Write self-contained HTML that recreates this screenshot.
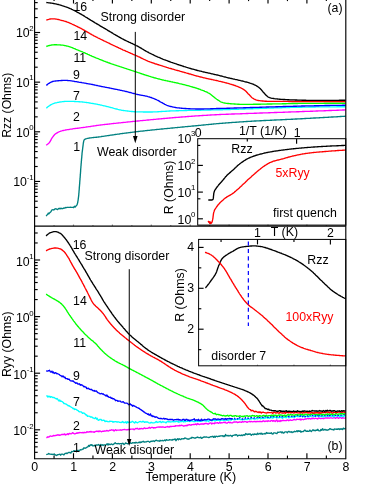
<!DOCTYPE html>
<html><head><meta charset="utf-8"><title>Rzz and Ryy vs Temperature</title>
<style>html,body{margin:0;padding:0;background:#fff;}body{width:374px;height:484px;overflow:hidden;font-family:"Liberation Sans",sans-serif;}svg text{font-family:"Liberation Sans",sans-serif;}</style>
</head><body>
<svg width="374" height="484" viewBox="0 0 374 484" style="display:block;font-family:'Liberation Sans',sans-serif" font-family="Liberation Sans, sans-serif">
<defs><filter id="soft" x="0" y="0" width="374" height="484" filterUnits="userSpaceOnUse"><feGaussianBlur stdDeviation="0.3"/></filter></defs>
<rect x="0" y="0" width="374" height="484" fill="#fff"/>
<g filter="url(#soft)">
<clipPath id="ca"><rect x="34.6" y="0" width="311.2" height="226.1"/></clipPath>
<clipPath id="cb"><rect x="34.6" y="226.1" width="311.2" height="232.6"/></clipPath>
<g clip-path="url(#ca)">
<path d="M46.2,216.2 L46.9,215.0 L47.6,214.5 L48.3,213.1 L48.9,213.7 L49.5,213.1 L50.1,212.4 L50.6,212.0 L51.1,211.4 L51.6,210.2 L52.2,209.8 L52.9,209.7 L53.6,210.0 L54.3,209.7 L55.1,208.8 L56.0,208.7 L56.8,209.3 L57.6,209.5 L58.4,208.7 L59.2,208.3 L60.0,208.9 L60.8,208.2 L61.6,208.5 L62.4,208.7 L63.2,208.3 L64.0,208.0 L64.8,208.1 L65.6,207.5 L66.4,207.6 L67.2,207.3 L68.0,207.4 L68.8,207.3 L69.7,207.3 L70.5,207.2 L71.3,207.3 L72.1,207.3 L72.9,207.3 L73.6,207.6 L74.4,206.3 L75.2,207.1 L75.9,206.0 L76.5,205.6 L76.9,205.0 L77.2,204.4 L77.4,203.6 L77.6,202.8 L77.8,202.0 L77.9,201.1 L78.1,200.3 L78.2,199.5 L78.3,198.7 L78.4,197.9 L78.5,197.1 L78.6,196.3 L78.7,195.5 L78.8,194.7 L78.8,193.9 L78.9,193.1 L79.0,192.3 L79.0,191.5 L79.1,190.7 L79.2,189.9 L79.2,189.1 L79.3,188.3 L79.3,187.5 L79.4,186.7 L79.5,185.9 L79.5,185.1 L79.6,184.3 L79.7,183.5 L79.7,182.7 L79.8,181.9 L79.8,181.1 L79.9,180.3 L80.0,179.5 L80.0,178.7 L80.1,177.9 L80.2,177.1 L80.2,176.3 L80.3,175.5 L80.3,174.7 L80.4,173.9 L80.5,173.1 L80.5,172.3 L80.6,171.5 L80.6,170.7 L80.7,169.9 L80.7,169.1 L80.8,168.2 L80.9,167.4 L80.9,166.6 L81.0,165.8 L81.1,165.0 L81.1,164.2 L81.2,163.4 L81.3,162.6 L81.3,161.8 L81.4,161.0 L81.5,160.2 L81.5,159.4 L81.6,158.6 L81.7,157.8 L81.8,157.0 L81.8,156.2 L81.9,155.4 L82.0,154.6 L82.0,153.8 L82.1,153.0 L82.2,152.2 L82.3,151.4 L82.4,150.6 L82.5,149.8 L82.6,149.0 L82.7,148.2 L82.8,147.4 L82.9,146.7 L83.0,145.9 L83.1,145.1 L83.2,144.2 L83.3,143.3 L83.5,142.5 L83.6,141.7 L83.8,140.9 L84.0,140.2 L84.4,139.7 L85.0,139.2 L85.8,138.8 L86.6,138.6 L87.3,138.4 L88.0,138.3 L88.8,138.1 L89.6,138.0 L90.4,137.9 L91.2,137.8 L92.0,137.7 L92.8,137.6 L93.6,137.5 L94.4,137.4 L95.3,137.3 L96.1,137.2 L96.9,137.2 L97.7,137.1 L98.5,137.0 L99.3,136.9 L100.1,136.8 L100.9,136.7 L101.7,136.5 L102.5,136.4 L103.3,136.3 L104.1,136.2 L104.9,136.1 L105.7,135.9 L106.5,135.8 L107.3,135.7 L108.1,135.6 L108.9,135.5 L109.7,135.4 L110.5,135.2 L111.3,135.1 L112.1,135.0 L112.9,134.9 L113.6,134.8 L114.4,134.6 L115.2,134.5 L116.0,134.4 L116.8,134.3 L117.6,134.2 L118.4,134.1 L119.2,134.0 L120.0,133.8 L120.8,133.7 L121.6,133.6 L122.4,133.5 L123.2,133.4 L124.0,133.3 L124.8,133.2 L125.6,133.1 L126.4,133.0 L127.2,132.9 L128.0,132.8 L128.8,132.7 L129.6,132.6 L130.4,132.5 L131.2,132.4 L132.0,132.3 L132.8,132.2 L133.6,132.1 L134.4,132.0 L135.1,131.9 L135.9,131.8 L136.7,131.7 L137.5,131.6 L138.3,131.5 L139.1,131.4 L139.9,131.3 L140.7,131.2 L141.5,131.1 L142.3,131.1 L143.1,131.0 L143.9,130.9 L144.7,130.8 L145.5,130.7 L146.3,130.6 L147.1,130.5 L147.9,130.4 L148.7,130.3 L149.5,130.3 L150.3,130.2 L151.1,130.1 L151.9,130.0 L152.7,129.9 L153.5,129.8 L154.3,129.8 L155.1,129.7 L155.9,129.6 L156.7,129.5 L157.5,129.4 L158.3,129.3 L159.1,129.3 L159.9,129.2 L160.7,129.1 L161.5,129.0 L162.3,129.0 L163.1,128.9 L163.9,128.8 L164.7,128.7 L165.5,128.6 L166.3,128.6 L167.1,128.5 L167.9,128.4 L168.7,128.3 L169.5,128.3 L170.3,128.2 L171.1,128.1 L171.9,128.0 L172.7,128.0 L173.5,127.9 L174.3,127.8 L175.1,127.7 L175.9,127.6 L176.7,127.6 L177.5,127.5 L178.3,127.4 L179.1,127.3 L179.9,127.3 L180.7,127.2 L181.5,127.1 L182.3,127.0 L183.1,127.0 L183.9,126.9 L184.7,126.8 L185.5,126.7 L186.3,126.6 L187.1,126.6 L187.9,126.5 L188.7,126.4 L189.5,126.3 L190.3,126.3 L191.1,126.2 L191.9,126.1 L192.7,126.0 L193.5,126.0 L194.3,125.9 L195.1,125.8 L195.9,125.7 L196.7,125.7 L197.5,125.6 L198.3,125.5 L199.1,125.4 L199.9,125.4 L200.7,125.3 L201.5,125.2 L202.3,125.1 L203.1,125.0 L203.9,125.0 L204.7,124.9 L205.5,124.8 L206.3,124.7 L207.1,124.6 L207.9,124.6 L208.7,124.5 L209.5,124.4 L210.3,124.3 L211.1,124.2 L211.9,124.2 L212.7,124.1 L213.5,124.0 L214.3,123.9 L215.1,123.9 L215.9,123.8 L216.7,123.7 L217.5,123.6 L218.3,123.6 L219.1,123.5 L219.9,123.4 L220.7,123.4 L221.5,123.3 L222.3,123.2 L223.1,123.2 L223.9,123.1 L224.7,123.1 L225.5,123.0 L226.3,122.9 L227.1,122.9 L227.9,122.8 L228.7,122.7 L229.5,122.7 L230.3,122.6 L231.1,122.6 L231.9,122.5 L232.7,122.4 L233.5,122.4 L234.3,122.3 L235.1,122.3 L235.9,122.2 L236.7,122.2 L237.5,122.1 L238.3,122.1 L239.1,122.0 L239.9,121.9 L240.7,121.9 L241.5,121.8 L242.3,121.8 L243.1,121.7 L243.9,121.7 L244.7,121.6 L245.5,121.6 L246.3,121.5 L247.1,121.5 L247.9,121.4 L248.7,121.4 L249.5,121.3 L250.3,121.3 L251.1,121.2 L251.9,121.2 L252.7,121.1 L253.5,121.1 L254.3,121.0 L255.1,121.0 L255.9,121.0 L256.8,120.9 L257.6,120.9 L258.4,120.8 L259.2,120.8 L260.0,120.7 L260.8,120.7 L261.6,120.7 L262.4,120.6 L263.2,120.6 L264.0,120.5 L264.8,120.5 L265.6,120.5 L266.4,120.4 L267.2,120.4 L268.0,120.3 L268.8,120.3 L269.6,120.3 L270.4,120.2 L271.2,120.2 L272.0,120.2 L272.8,120.1 L273.6,120.1 L274.4,120.0 L275.2,120.0 L276.0,120.0 L276.8,119.9 L277.6,119.9 L278.4,119.9 L279.2,119.8 L280.0,119.8 L280.8,119.7 L281.6,119.7 L282.4,119.7 L283.2,119.6 L284.0,119.6 L284.8,119.6 L285.6,119.5 L286.4,119.5 L287.2,119.4 L288.0,119.4 L288.8,119.4 L289.7,119.3 L290.5,119.3 L291.3,119.2 L292.1,119.2 L292.9,119.2 L293.7,119.1 L294.5,119.1 L295.3,119.0 L296.1,119.0 L296.9,119.0 L297.7,118.9 L298.5,118.9 L299.3,118.8 L300.1,118.8 L300.9,118.7 L301.7,118.7 L302.5,118.7 L303.3,118.6 L304.1,118.6 L304.9,118.5 L305.7,118.5 L306.5,118.4 L307.3,118.4 L308.1,118.4 L308.9,118.3 L309.7,118.3 L310.5,118.2 L311.3,118.2 L312.1,118.1 L312.9,118.1 L313.7,118.0 L314.5,118.0 L315.3,118.0 L316.1,117.9 L316.9,117.9 L317.7,117.8 L318.5,117.8 L319.3,117.7 L320.1,117.7 L320.9,117.6 L321.7,117.6 L322.5,117.6 L323.3,117.5 L324.1,117.5 L324.9,117.4 L325.7,117.4 L326.6,117.3 L327.4,117.3 L328.2,117.2 L329.0,117.2 L329.8,117.1 L330.6,117.1 L331.4,117.0 L332.2,117.0 L333.0,117.0 L333.8,116.9 L334.6,116.9 L335.4,116.8 L336.2,116.8 L337.0,116.7 L337.8,116.7 L338.6,116.6 L339.4,116.6 L340.2,116.5 L341.0,116.5 L341.8,116.4 L342.6,116.4 L343.4,116.3 L344.2,116.3 L345.0,116.2 L345.8,116.2" fill="none" stroke="#008080" stroke-width="1.35" stroke-linejoin="round" stroke-linecap="butt" />
<path d="M46.2,145.2 L46.9,144.7 L47.5,144.3 L48.2,143.7 L48.8,143.2 L49.3,142.6 L49.8,142.0 L50.2,141.3 L50.6,140.6 L51.0,139.9 L51.3,139.2 L51.7,138.5 L52.1,137.8 L52.6,137.1 L53.1,136.5 L53.6,135.8 L54.1,135.2 L54.7,134.6 L55.3,134.1 L55.9,133.6 L56.5,133.2 L57.2,132.8 L57.9,132.4 L58.7,132.0 L59.4,131.7 L60.2,131.4 L60.9,131.1 L61.7,130.9 L62.4,130.7 L63.2,130.5 L64.0,130.3 L64.8,130.2 L65.6,130.0 L66.4,129.9 L67.2,129.7 L68.0,129.6 L68.8,129.5 L69.6,129.3 L70.4,129.2 L71.2,129.1 L72.0,129.0 L72.8,128.8 L73.6,128.7 L74.4,128.6 L75.1,128.5 L75.9,128.4 L76.7,128.3 L77.5,128.2 L78.3,128.2 L79.1,128.1 L79.9,127.9 L80.7,127.8 L81.5,127.7 L82.3,127.6 L83.1,127.5 L83.9,127.4 L84.7,127.3 L85.5,127.2 L86.3,127.0 L87.1,126.9 L87.9,126.8 L88.7,126.7 L89.5,126.6 L90.3,126.5 L91.1,126.3 L91.9,126.2 L92.7,126.1 L93.4,126.0 L94.2,125.9 L95.0,125.8 L95.8,125.6 L96.6,125.5 L97.4,125.4 L98.2,125.3 L99.0,125.2 L99.8,125.1 L100.6,125.0 L101.4,124.9 L102.2,124.8 L103.0,124.7 L103.8,124.6 L104.6,124.5 L105.4,124.4 L106.2,124.3 L107.0,124.2 L107.8,124.2 L108.6,124.1 L109.4,124.0 L110.2,123.9 L111.0,123.8 L111.8,123.7 L112.6,123.6 L113.4,123.5 L114.2,123.4 L115.0,123.4 L115.8,123.3 L116.6,123.2 L117.4,123.1 L118.2,123.0 L119.0,122.9 L119.8,122.8 L120.6,122.8 L121.4,122.7 L122.2,122.6 L123.0,122.5 L123.8,122.4 L124.6,122.3 L125.4,122.3 L126.2,122.2 L127.0,122.1 L127.7,122.0 L128.5,121.9 L129.3,121.8 L130.1,121.8 L130.9,121.7 L131.7,121.6 L132.5,121.5 L133.3,121.4 L134.1,121.4 L134.9,121.3 L135.7,121.2 L136.5,121.1 L137.3,121.0 L138.1,121.0 L138.9,120.9 L139.7,120.8 L140.5,120.7 L141.3,120.6 L142.1,120.6 L142.9,120.5 L143.7,120.4 L144.5,120.3 L145.3,120.3 L146.1,120.2 L146.9,120.1 L147.7,120.0 L148.5,120.0 L149.3,119.9 L150.1,119.8 L150.9,119.7 L151.7,119.6 L152.5,119.6 L153.3,119.5 L154.1,119.4 L154.9,119.3 L155.7,119.3 L156.5,119.2 L157.3,119.1 L158.1,119.0 L158.9,119.0 L159.7,118.9 L160.5,118.8 L161.3,118.7 L162.1,118.7 L162.9,118.6 L163.7,118.5 L164.5,118.5 L165.3,118.4 L166.1,118.3 L166.9,118.2 L167.7,118.2 L168.5,118.1 L169.3,118.0 L170.1,118.0 L170.9,117.9 L171.7,117.8 L172.5,117.7 L173.3,117.7 L174.1,117.6 L174.9,117.5 L175.7,117.5 L176.5,117.4 L177.3,117.4 L178.1,117.3 L178.9,117.2 L179.7,117.2 L180.5,117.1 L181.3,117.0 L182.1,117.0 L182.9,116.9 L183.7,116.8 L184.5,116.8 L185.3,116.7 L186.1,116.7 L186.9,116.6 L187.7,116.5 L188.5,116.5 L189.3,116.4 L190.1,116.4 L190.9,116.3 L191.7,116.2 L192.5,116.2 L193.3,116.1 L194.1,116.1 L194.9,116.0 L195.7,115.9 L196.5,115.9 L197.3,115.8 L198.1,115.8 L198.9,115.7 L199.7,115.7 L200.6,115.6 L201.4,115.6 L202.2,115.5 L203.0,115.5 L203.8,115.4 L204.6,115.4 L205.4,115.3 L206.2,115.3 L207.0,115.2 L207.8,115.2 L208.6,115.1 L209.4,115.1 L210.2,115.0 L211.0,115.0 L211.8,114.9 L212.6,114.9 L213.4,114.8 L214.2,114.8 L215.0,114.7 L215.8,114.7 L216.6,114.7 L217.4,114.6 L218.2,114.6 L219.0,114.6 L219.8,114.5 L220.6,114.5 L221.4,114.4 L222.2,114.4 L223.0,114.4 L223.8,114.3 L224.6,114.3 L225.4,114.3 L226.2,114.2 L227.0,114.2 L227.8,114.2 L228.6,114.2 L229.4,114.1 L230.2,114.1 L231.0,114.1 L231.8,114.0 L232.6,114.0 L233.4,114.0 L234.2,114.0 L235.0,113.9 L235.8,113.9 L236.6,113.9 L237.4,113.8 L238.3,113.8 L239.1,113.8 L239.9,113.8 L240.7,113.7 L241.5,113.7 L242.3,113.7 L243.1,113.6 L243.9,113.6 L244.7,113.6 L245.5,113.6 L246.3,113.5 L247.1,113.5 L247.9,113.5 L248.7,113.4 L249.5,113.4 L250.3,113.4 L251.1,113.4 L251.9,113.3 L252.7,113.3 L253.5,113.3 L254.3,113.2 L255.1,113.2 L255.9,113.2 L256.7,113.2 L257.5,113.1 L258.3,113.1 L259.1,113.1 L259.9,113.0 L260.7,113.0 L261.5,113.0 L262.3,113.0 L263.1,112.9 L263.9,112.9 L264.7,112.9 L265.5,112.8 L266.3,112.8 L267.1,112.8 L267.9,112.8 L268.8,112.7 L269.6,112.7 L270.4,112.7 L271.2,112.6 L272.0,112.6 L272.8,112.6 L273.6,112.6 L274.4,112.5 L275.2,112.5 L276.0,112.5 L276.8,112.5 L277.6,112.4 L278.4,112.4 L279.2,112.4 L280.0,112.3 L280.8,112.3 L281.6,112.3 L282.4,112.3 L283.2,112.2 L284.0,112.2 L284.8,112.2 L285.6,112.1 L286.4,112.1 L287.2,112.1 L288.0,112.1 L288.8,112.0 L289.6,112.0 L290.4,112.0 L291.2,111.9 L292.0,111.9 L292.8,111.9 L293.6,111.9 L294.4,111.8 L295.2,111.8 L296.0,111.8 L296.8,111.7 L297.6,111.7 L298.4,111.7 L299.3,111.7 L300.1,111.6 L300.9,111.6 L301.7,111.6 L302.5,111.5 L303.3,111.5 L304.1,111.5 L304.9,111.4 L305.7,111.4 L306.5,111.4 L307.3,111.4 L308.1,111.3 L308.9,111.3 L309.7,111.3 L310.5,111.2 L311.3,111.2 L312.1,111.2 L312.9,111.2 L313.7,111.1 L314.5,111.1 L315.3,111.1 L316.1,111.0 L316.9,111.0 L317.7,111.0 L318.5,110.9 L319.3,110.9 L320.1,110.9 L320.9,110.9 L321.7,110.8 L322.5,110.8 L323.3,110.8 L324.1,110.7 L324.9,110.7 L325.7,110.7 L326.5,110.6 L327.3,110.6 L328.1,110.6 L328.9,110.5 L329.7,110.5 L330.6,110.5 L331.4,110.5 L332.2,110.4 L333.0,110.4 L333.8,110.4 L334.6,110.3 L335.4,110.3 L336.2,110.3 L337.0,110.2 L337.8,110.2 L338.6,110.2 L339.4,110.1 L340.2,110.1 L341.0,110.1 L341.8,110.1 L342.6,110.0 L343.4,110.0 L344.2,110.0 L345.0,109.9 L345.8,109.9" fill="none" stroke="#ff00ff" stroke-width="1.35" stroke-linejoin="round" stroke-linecap="butt" />
<path d="M46.3,108.1 L47.0,107.6 L47.6,107.0 L48.3,106.5 L49.0,106.0 L49.6,105.6 L50.3,105.1 L51.0,104.7 L51.7,104.3 L52.4,104.0 L53.2,103.6 L53.9,103.4 L54.6,103.1 L55.4,102.9 L56.1,102.8 L56.9,102.6 L57.6,102.4 L58.4,102.3 L59.2,102.1 L60.0,102.0 L60.8,101.9 L61.6,101.8 L62.4,101.7 L63.3,101.6 L64.1,101.5 L64.9,101.4 L65.7,101.4 L66.5,101.3 L67.3,101.3 L68.1,101.3 L68.9,101.3 L69.7,101.3 L70.5,101.3 L71.3,101.4 L72.1,101.4 L72.9,101.4 L73.7,101.4 L74.5,101.5 L75.3,101.5 L76.1,101.6 L76.9,101.6 L77.7,101.6 L78.6,101.7 L79.4,101.7 L80.2,101.8 L81.0,101.8 L81.8,101.9 L82.5,102.0 L83.3,102.1 L84.1,102.2 L84.9,102.3 L85.7,102.4 L86.5,102.5 L87.3,102.6 L88.1,102.7 L88.9,102.9 L89.7,103.0 L90.5,103.1 L91.3,103.3 L92.1,103.4 L92.9,103.5 L93.7,103.6 L94.5,103.8 L95.3,103.9 L96.0,104.1 L96.8,104.2 L97.6,104.4 L98.4,104.6 L99.2,104.7 L100.0,104.9 L100.8,105.1 L101.6,105.2 L102.3,105.4 L103.1,105.6 L103.9,105.8 L104.7,105.9 L105.5,106.1 L106.3,106.3 L107.0,106.5 L107.8,106.7 L108.6,106.9 L109.4,107.1 L110.2,107.3 L110.9,107.5 L111.7,107.7 L112.5,107.9 L113.3,108.2 L114.0,108.4 L114.8,108.6 L115.6,108.8 L116.4,109.0 L117.2,109.2 L117.9,109.4 L118.7,109.6 L119.5,109.8 L120.3,109.9 L121.1,110.1 L121.9,110.3 L122.6,110.4 L123.4,110.5 L124.2,110.6 L125.0,110.7 L125.8,110.8 L126.6,110.9 L127.4,111.0 L128.2,111.1 L129.0,111.2 L129.8,111.3 L130.6,111.4 L131.4,111.5 L132.2,111.5 L133.0,111.6 L133.8,111.7 L134.6,111.7 L135.4,111.8 L136.2,111.8 L137.0,111.8 L137.8,111.8 L138.6,111.9 L139.4,111.9 L140.2,111.9 L141.0,111.9 L141.8,111.9 L142.6,111.9 L143.4,112.0 L144.2,112.0 L145.0,112.0 L145.9,112.0 L146.7,112.0 L147.5,112.0 L148.3,112.0 L149.1,112.0 L149.9,112.0 L150.7,112.0 L151.5,112.0 L152.3,112.0 L153.1,111.9 L153.9,111.9 L154.7,111.9 L155.5,111.8 L156.3,111.8 L157.1,111.8 L157.9,111.7 L158.7,111.7 L159.5,111.6 L160.3,111.6 L161.1,111.5 L161.9,111.5 L162.7,111.4 L163.5,111.4 L164.3,111.3 L165.1,111.3 L165.9,111.2 L166.7,111.2 L167.5,111.1 L168.3,111.1 L169.1,111.0 L169.9,111.0 L170.7,110.9 L171.5,110.9 L172.3,110.9 L173.1,110.8 L173.9,110.8 L174.7,110.8 L175.5,110.8 L176.3,110.7 L177.2,110.7 L178.0,110.7 L178.8,110.7 L179.6,110.6 L180.4,110.6 L181.2,110.6 L182.0,110.6 L182.8,110.6 L183.6,110.5 L184.4,110.5 L185.2,110.5 L186.0,110.5 L186.8,110.5 L187.6,110.4 L188.4,110.4 L189.2,110.4 L190.0,110.4 L190.8,110.4 L191.6,110.4 L192.4,110.3 L193.2,110.3 L194.0,110.3 L194.8,110.3 L195.6,110.3 L196.4,110.3 L197.2,110.2 L198.0,110.2 L198.8,110.2 L199.6,110.2 L200.4,110.2 L201.2,110.2 L202.0,110.1 L202.9,110.1 L203.7,110.1 L204.5,110.1 L205.3,110.1 L206.1,110.1 L206.9,110.1 L207.7,110.0 L208.5,110.0 L209.3,110.0 L210.1,110.0 L210.9,110.0 L211.7,109.9 L212.5,109.9 L213.3,109.9 L214.1,109.9 L214.9,109.9 L215.7,109.9 L216.5,109.8 L217.3,109.8 L218.1,109.8 L218.9,109.8 L219.7,109.8 L220.5,109.7 L221.3,109.7 L222.1,109.7 L222.9,109.7 L223.7,109.6 L224.5,109.6 L225.3,109.6 L226.1,109.6 L226.9,109.6 L227.7,109.5 L228.6,109.5 L229.4,109.5 L230.2,109.5 L231.0,109.4 L231.8,109.4 L232.6,109.4 L233.4,109.4 L234.2,109.3 L235.0,109.3 L235.8,109.3 L236.6,109.2 L237.4,109.2 L238.2,109.2 L239.0,109.2 L239.8,109.1 L240.6,109.1 L241.4,109.1 L242.2,109.1 L243.0,109.0 L243.8,109.0 L244.6,109.0 L245.4,108.9 L246.2,108.9 L247.0,108.9 L247.8,108.9 L248.6,108.8 L249.4,108.8 L250.2,108.8 L251.0,108.7 L251.8,108.7 L252.6,108.7 L253.4,108.7 L254.2,108.6 L255.0,108.6 L255.9,108.6 L256.7,108.5 L257.5,108.5 L258.3,108.5 L259.1,108.5 L259.9,108.4 L260.7,108.4 L261.5,108.4 L262.3,108.3 L263.1,108.3 L263.9,108.3 L264.7,108.3 L265.5,108.2 L266.3,108.2 L267.1,108.2 L267.9,108.1 L268.7,108.1 L269.5,108.1 L270.3,108.1 L271.1,108.0 L271.9,108.0 L272.7,108.0 L273.5,108.0 L274.3,107.9 L275.1,107.9 L275.9,107.9 L276.7,107.8 L277.5,107.8 L278.3,107.8 L279.1,107.8 L279.9,107.7 L280.7,107.7 L281.5,107.7 L282.3,107.7 L283.2,107.6 L284.0,107.6 L284.8,107.6 L285.6,107.6 L286.4,107.6 L287.2,107.5 L288.0,107.5 L288.8,107.5 L289.6,107.5 L290.4,107.4 L291.2,107.4 L292.0,107.4 L292.8,107.4 L293.6,107.4 L294.4,107.3 L295.2,107.3 L296.0,107.3 L296.8,107.3 L297.6,107.3 L298.4,107.2 L299.2,107.2 L300.0,107.2 L300.8,107.2 L301.6,107.2 L302.4,107.2 L303.2,107.1 L304.0,107.1 L304.8,107.1 L305.6,107.1 L306.4,107.1 L307.2,107.1 L308.0,107.1 L308.8,107.0 L309.7,107.0 L310.5,107.0 L311.3,107.0 L312.1,107.0 L312.9,107.0 L313.7,107.0 L314.5,107.0 L315.3,107.0 L316.1,106.9 L316.9,106.9 L317.7,106.9 L318.5,106.9 L319.3,106.9 L320.1,106.9 L320.9,106.9 L321.7,106.9 L322.5,106.9 L323.3,106.9 L324.1,106.9 L324.9,106.9 L325.7,106.8 L326.5,106.8 L327.3,106.8 L328.1,106.8 L328.9,106.8 L329.7,106.8 L330.5,106.8 L331.3,106.8 L332.1,106.8 L332.9,106.8 L333.7,106.8 L334.6,106.8 L335.4,106.8 L336.2,106.8 L337.0,106.7 L337.8,106.7 L338.6,106.7 L339.4,106.7 L340.2,106.7 L341.0,106.7 L341.8,106.7 L342.6,106.7 L343.4,106.7 L344.2,106.7 L345.0,106.7 L345.8,106.7" fill="none" stroke="#00ffff" stroke-width="1.35" stroke-linejoin="round" stroke-linecap="butt" />
<path d="M46.3,85.4 L47.0,84.9 L47.6,84.3 L48.3,83.8 L49.0,83.3 L49.7,82.9 L50.4,82.5 L51.1,82.1 L51.8,81.8 L52.6,81.5 L53.3,81.3 L54.0,81.2 L54.8,81.1 L55.6,81.0 L56.4,80.9 L57.2,80.8 L58.0,80.7 L58.8,80.7 L59.6,80.6 L60.4,80.6 L61.2,80.5 L62.0,80.5 L62.9,80.4 L63.7,80.4 L64.5,80.4 L65.3,80.4 L66.1,80.4 L66.9,80.4 L67.7,80.5 L68.5,80.6 L69.3,80.6 L70.1,80.7 L70.9,80.8 L71.7,80.9 L72.5,81.1 L73.3,81.2 L74.1,81.3 L74.9,81.5 L75.6,81.6 L76.4,81.7 L77.2,81.9 L78.0,82.0 L78.8,82.2 L79.6,82.3 L80.4,82.4 L81.2,82.5 L82.0,82.7 L82.8,82.8 L83.6,82.9 L84.4,83.1 L85.2,83.2 L86.0,83.3 L86.7,83.5 L87.5,83.6 L88.3,83.8 L89.1,83.9 L89.9,84.1 L90.7,84.2 L91.5,84.4 L92.3,84.5 L93.1,84.7 L93.8,84.9 L94.6,85.0 L95.4,85.2 L96.2,85.3 L97.0,85.5 L97.8,85.7 L98.6,85.8 L99.4,86.0 L100.2,86.1 L100.9,86.3 L101.7,86.5 L102.5,86.6 L103.3,86.8 L104.1,86.9 L104.9,87.1 L105.7,87.3 L106.5,87.4 L107.2,87.6 L108.0,87.7 L108.8,87.9 L109.6,88.0 L110.4,88.2 L111.2,88.3 L112.0,88.5 L112.8,88.6 L113.6,88.8 L114.3,89.0 L115.1,89.1 L115.9,89.3 L116.7,89.4 L117.5,89.6 L118.3,89.8 L119.1,89.9 L119.9,90.1 L120.6,90.3 L121.4,90.4 L122.2,90.6 L123.0,90.8 L123.8,90.9 L124.6,91.1 L125.3,91.3 L126.1,91.5 L126.9,91.7 L127.7,91.9 L128.5,92.1 L129.2,92.3 L130.0,92.5 L130.8,92.7 L131.6,92.9 L132.3,93.1 L133.1,93.3 L133.9,93.5 L134.7,93.7 L135.5,93.9 L136.2,94.1 L137.0,94.3 L137.8,94.5 L138.6,94.6 L139.4,94.8 L140.2,95.0 L141.0,95.1 L141.8,95.3 L142.6,95.4 L143.3,95.6 L144.1,95.7 L144.9,95.9 L145.7,96.1 L146.5,96.2 L147.3,96.4 L148.0,96.6 L148.8,96.8 L149.6,97.0 L150.3,97.3 L151.1,97.5 L151.9,97.8 L152.6,98.1 L153.4,98.4 L154.1,98.7 L154.9,99.0 L155.6,99.3 L156.3,99.6 L157.1,100.0 L157.8,100.3 L158.5,100.7 L159.2,101.1 L159.9,101.6 L160.6,102.0 L161.3,102.4 L162.0,102.7 L162.7,103.1 L163.4,103.5 L164.1,103.9 L164.8,104.3 L165.6,104.6 L166.3,105.0 L167.0,105.3 L167.8,105.6 L168.5,105.9 L169.3,106.1 L170.0,106.3 L170.8,106.5 L171.6,106.7 L172.4,106.9 L173.1,107.1 L173.9,107.2 L174.7,107.4 L175.5,107.5 L176.3,107.6 L177.1,107.8 L177.9,107.9 L178.7,107.9 L179.5,108.0 L180.3,108.1 L181.1,108.2 L181.9,108.2 L182.7,108.3 L183.5,108.3 L184.3,108.4 L185.1,108.5 L185.9,108.5 L186.7,108.6 L187.5,108.6 L188.3,108.7 L189.1,108.7 L189.9,108.7 L190.7,108.8 L191.6,108.8 L192.4,108.9 L193.2,108.9 L194.0,108.9 L194.8,108.9 L195.6,109.0 L196.4,109.0 L197.2,109.0 L198.0,109.0 L198.8,109.0 L199.6,109.0 L200.4,109.0 L201.2,109.0 L202.0,109.0 L202.8,109.0 L203.6,109.0 L204.4,108.9 L205.2,108.9 L206.0,108.9 L206.8,108.9 L207.6,108.8 L208.4,108.8 L209.2,108.8 L210.0,108.8 L210.8,108.7 L211.6,108.7 L212.4,108.7 L213.3,108.7 L214.1,108.6 L214.9,108.6 L215.7,108.6 L216.5,108.5 L217.3,108.5 L218.1,108.5 L218.9,108.5 L219.7,108.5 L220.5,108.4 L221.3,108.4 L222.1,108.4 L222.9,108.4 L223.7,108.3 L224.5,108.3 L225.3,108.3 L226.1,108.3 L226.9,108.2 L227.7,108.2 L228.5,108.2 L229.3,108.2 L230.1,108.2 L230.9,108.1 L231.7,108.1 L232.5,108.1 L233.3,108.1 L234.1,108.0 L234.9,108.0 L235.7,108.0 L236.5,108.0 L237.3,107.9 L238.2,107.9 L239.0,107.9 L239.8,107.9 L240.6,107.8 L241.4,107.8 L242.2,107.8 L243.0,107.8 L243.8,107.7 L244.6,107.7 L245.4,107.7 L246.2,107.7 L247.0,107.6 L247.8,107.6 L248.6,107.6 L249.4,107.6 L250.2,107.5 L251.0,107.5 L251.8,107.5 L252.6,107.5 L253.4,107.4 L254.2,107.4 L255.0,107.4 L255.8,107.4 L256.6,107.3 L257.4,107.3 L258.2,107.3 L259.0,107.3 L259.8,107.2 L260.6,107.2 L261.4,107.2 L262.2,107.2 L263.1,107.1 L263.9,107.1 L264.7,107.1 L265.5,107.1 L266.3,107.0 L267.1,107.0 L267.9,107.0 L268.7,107.0 L269.5,106.9 L270.3,106.9 L271.1,106.9 L271.9,106.9 L272.7,106.8 L273.5,106.8 L274.3,106.8 L275.1,106.8 L275.9,106.7 L276.7,106.7 L277.5,106.7 L278.3,106.7 L279.1,106.6 L279.9,106.6 L280.7,106.6 L281.5,106.6 L282.3,106.6 L283.1,106.5 L283.9,106.5 L284.7,106.5 L285.5,106.5 L286.3,106.4 L287.2,106.4 L288.0,106.4 L288.8,106.4 L289.6,106.4 L290.4,106.3 L291.2,106.3 L292.0,106.3 L292.8,106.3 L293.6,106.2 L294.4,106.2 L295.2,106.2 L296.0,106.2 L296.8,106.2 L297.6,106.1 L298.4,106.1 L299.2,106.1 L300.0,106.1 L300.8,106.1 L301.6,106.0 L302.4,106.0 L303.2,106.0 L304.0,106.0 L304.8,106.0 L305.6,105.9 L306.4,105.9 L307.2,105.9 L308.0,105.9 L308.8,105.9 L309.6,105.9 L310.4,105.8 L311.3,105.8 L312.1,105.8 L312.9,105.8 L313.7,105.8 L314.5,105.7 L315.3,105.7 L316.1,105.7 L316.9,105.7 L317.7,105.7 L318.5,105.7 L319.3,105.7 L320.1,105.6 L320.9,105.6 L321.7,105.6 L322.5,105.6 L323.3,105.6 L324.1,105.6 L324.9,105.5 L325.7,105.5 L326.5,105.5 L327.3,105.5 L328.1,105.5 L328.9,105.5 L329.7,105.5 L330.5,105.4 L331.3,105.4 L332.1,105.4 L332.9,105.4 L333.7,105.4 L334.6,105.4 L335.4,105.4 L336.2,105.4 L337.0,105.3 L337.8,105.3 L338.6,105.3 L339.4,105.3 L340.2,105.3 L341.0,105.3 L341.8,105.3 L342.6,105.2 L343.4,105.2 L344.2,105.2 L345.0,105.2 L345.8,105.2" fill="none" stroke="#0000ff" stroke-width="1.35" stroke-linejoin="round" stroke-linecap="butt" />
<path d="M46.3,46.5 L47.1,46.2 L47.9,46.0 L48.6,45.7 L49.4,45.5 L50.2,45.3 L51.0,45.1 L51.8,45.0 L52.6,44.9 L53.4,44.8 L54.2,44.7 L55.0,44.7 L55.7,44.7 L56.5,44.7 L57.4,44.8 L58.2,44.8 L59.0,44.9 L59.8,44.9 L60.6,45.0 L61.4,45.1 L62.2,45.1 L63.0,45.2 L63.7,45.3 L64.5,45.5 L65.3,45.6 L66.1,45.8 L66.8,46.0 L67.6,46.2 L68.4,46.4 L69.1,46.6 L69.9,46.9 L70.7,47.2 L71.4,47.4 L72.2,47.7 L73.0,48.0 L73.7,48.3 L74.5,48.6 L75.2,48.9 L76.0,49.3 L76.7,49.6 L77.5,49.9 L78.2,50.2 L79.0,50.5 L79.7,50.8 L80.5,51.1 L81.2,51.4 L82.0,51.7 L82.7,52.0 L83.4,52.3 L84.2,52.6 L84.9,52.9 L85.6,53.3 L86.4,53.6 L87.1,53.9 L87.8,54.3 L88.6,54.6 L89.3,54.9 L90.0,55.3 L90.8,55.6 L91.5,55.9 L92.2,56.3 L93.0,56.6 L93.7,56.9 L94.4,57.2 L95.2,57.5 L95.9,57.8 L96.7,58.1 L97.4,58.4 L98.2,58.7 L98.9,59.0 L99.6,59.4 L100.4,59.7 L101.1,60.0 L101.9,60.2 L102.6,60.5 L103.4,60.8 L104.1,61.1 L104.9,61.4 L105.6,61.7 L106.4,62.0 L107.1,62.2 L107.9,62.5 L108.6,62.8 L109.4,63.0 L110.2,63.3 L110.9,63.6 L111.7,63.8 L112.4,64.1 L113.2,64.3 L114.0,64.6 L114.7,64.8 L115.5,65.1 L116.2,65.3 L117.0,65.6 L117.8,65.8 L118.5,66.1 L119.3,66.3 L120.1,66.6 L120.8,66.8 L121.6,67.1 L122.4,67.4 L123.1,67.6 L123.9,67.9 L124.6,68.1 L125.4,68.4 L126.2,68.6 L126.9,68.9 L127.7,69.1 L128.4,69.4 L129.2,69.6 L130.0,69.9 L130.7,70.2 L131.5,70.4 L132.3,70.7 L133.0,70.9 L133.8,71.2 L134.5,71.4 L135.3,71.7 L136.1,71.9 L136.8,72.2 L137.6,72.4 L138.3,72.7 L139.1,72.9 L139.9,73.2 L140.6,73.5 L141.4,73.7 L142.2,74.0 L142.9,74.2 L143.7,74.5 L144.4,74.7 L145.2,75.0 L146.0,75.2 L146.7,75.5 L147.5,75.7 L148.3,75.9 L149.0,76.2 L149.8,76.4 L150.6,76.6 L151.3,76.9 L152.1,77.1 L152.9,77.3 L153.6,77.5 L154.4,77.8 L155.2,78.0 L156.0,78.2 L156.7,78.4 L157.5,78.6 L158.3,78.8 L159.1,79.0 L159.8,79.2 L160.6,79.4 L161.4,79.6 L162.2,79.8 L163.0,80.0 L163.7,80.2 L164.5,80.3 L165.3,80.5 L166.1,80.7 L166.9,80.8 L167.7,81.0 L168.5,81.2 L169.2,81.3 L170.0,81.5 L170.8,81.7 L171.6,81.8 L172.4,82.0 L173.2,82.2 L174.0,82.3 L174.7,82.5 L175.5,82.7 L176.3,82.9 L177.1,83.0 L177.9,83.2 L178.7,83.4 L179.4,83.6 L180.2,83.8 L181.0,83.9 L181.8,84.1 L182.6,84.3 L183.3,84.5 L184.1,84.7 L184.9,84.9 L185.7,85.1 L186.5,85.3 L187.2,85.5 L188.0,85.7 L188.8,85.9 L189.6,86.1 L190.3,86.4 L191.1,86.6 L191.9,86.8 L192.6,87.0 L193.4,87.3 L194.2,87.5 L195.0,87.7 L195.7,88.0 L196.5,88.2 L197.3,88.5 L198.0,88.7 L198.8,89.0 L199.5,89.2 L200.3,89.5 L201.0,89.8 L201.8,90.1 L202.6,90.4 L203.3,90.6 L204.1,90.9 L204.8,91.3 L205.6,91.6 L206.3,91.9 L207.0,92.2 L207.7,92.6 L208.4,93.0 L209.1,93.3 L209.8,93.7 L210.5,94.2 L211.1,94.7 L211.7,95.2 L212.3,95.7 L212.9,96.2 L213.6,96.8 L214.2,97.3 L214.8,97.8 L215.5,98.2 L216.1,98.7 L216.8,99.2 L217.4,99.6 L218.1,100.1 L218.8,100.5 L219.5,101.0 L220.1,101.5 L220.8,101.9 L221.5,102.2 L222.3,102.4 L223.0,102.6 L223.8,102.8 L224.6,103.0 L225.4,103.1 L226.2,103.3 L227.0,103.4 L227.8,103.5 L228.6,103.5 L229.4,103.6 L230.2,103.7 L231.0,103.7 L231.8,103.8 L232.6,103.9 L233.4,103.9 L234.2,104.0 L235.0,104.0 L235.8,104.1 L236.6,104.1 L237.4,104.2 L238.2,104.2 L239.0,104.2 L239.8,104.3 L240.6,104.3 L241.4,104.3 L242.2,104.3 L243.0,104.3 L243.9,104.3 L244.7,104.3 L245.5,104.3 L246.3,104.3 L247.1,104.3 L247.9,104.3 L248.7,104.3 L249.5,104.3 L250.3,104.3 L251.1,104.3 L251.9,104.3 L252.7,104.3 L253.5,104.2 L254.3,104.2 L255.1,104.2 L255.9,104.2 L256.7,104.2 L257.5,104.2 L258.3,104.2 L259.1,104.2 L259.9,104.2 L260.7,104.2 L261.5,104.1 L262.3,104.1 L263.1,104.1 L263.9,104.1 L264.7,104.1 L265.5,104.1 L266.3,104.1 L267.1,104.0 L267.9,104.0 L268.7,104.0 L269.5,104.0 L270.3,104.0 L271.1,104.0 L271.9,104.0 L272.7,103.9 L273.5,103.9 L274.3,103.9 L275.1,103.9 L276.0,103.9 L276.8,103.9 L277.6,103.8 L278.4,103.8 L279.2,103.8 L280.0,103.8 L280.8,103.8 L281.6,103.8 L282.4,103.7 L283.2,103.7 L284.0,103.7 L284.8,103.7 L285.6,103.7 L286.4,103.7 L287.2,103.6 L288.0,103.6 L288.8,103.6 L289.6,103.6 L290.4,103.6 L291.2,103.6 L292.0,103.5 L292.8,103.5 L293.6,103.5 L294.4,103.5 L295.2,103.5 L296.0,103.5 L296.8,103.5 L297.6,103.5 L298.4,103.4 L299.2,103.4 L300.0,103.4 L300.8,103.4 L301.6,103.4 L302.4,103.4 L303.3,103.4 L304.1,103.4 L304.9,103.4 L305.7,103.3 L306.5,103.3 L307.3,103.3 L308.1,103.3 L308.9,103.3 L309.7,103.3 L310.5,103.3 L311.3,103.3 L312.1,103.3 L312.9,103.3 L313.7,103.3 L314.5,103.3 L315.3,103.3 L316.1,103.3 L316.9,103.3 L317.7,103.3 L318.5,103.3 L319.3,103.3 L320.1,103.3 L320.9,103.3 L321.7,103.3 L322.5,103.3 L323.3,103.3 L324.1,103.2 L324.9,103.2 L325.7,103.2 L326.5,103.2 L327.3,103.2 L328.1,103.2 L328.9,103.2 L329.7,103.2 L330.5,103.2 L331.3,103.2 L332.2,103.2 L333.0,103.2 L333.8,103.2 L334.6,103.2 L335.4,103.2 L336.2,103.2 L337.0,103.2 L337.8,103.2 L338.6,103.2 L339.4,103.2 L340.2,103.2 L341.0,103.2 L341.8,103.2 L342.6,103.2 L343.4,103.2 L344.2,103.2 L345.0,103.2 L345.8,103.2" fill="none" stroke="#00ff00" stroke-width="1.35" stroke-linejoin="round" stroke-linecap="butt" />
<path d="M46.3,20.1 L47.1,19.8 L47.9,19.6 L48.7,19.4 L49.4,19.2 L50.2,19.0 L51.0,18.9 L51.8,18.8 L52.6,18.8 L53.4,18.8 L54.2,18.9 L55.0,18.9 L55.8,19.1 L56.6,19.2 L57.4,19.3 L58.2,19.5 L59.0,19.7 L59.8,19.9 L60.5,20.1 L61.3,20.3 L62.1,20.5 L62.9,20.6 L63.6,20.8 L64.4,21.1 L65.2,21.3 L65.9,21.5 L66.7,21.8 L67.4,22.1 L68.2,22.4 L68.9,22.7 L69.7,23.0 L70.4,23.3 L71.1,23.6 L71.9,24.0 L72.6,24.3 L73.3,24.7 L74.1,25.0 L74.8,25.4 L75.5,25.7 L76.3,26.1 L77.0,26.4 L77.7,26.8 L78.4,27.2 L79.2,27.5 L79.9,27.9 L80.6,28.2 L81.3,28.6 L82.0,29.0 L82.7,29.4 L83.4,29.8 L84.1,30.2 L84.8,30.6 L85.5,31.0 L86.2,31.4 L86.9,31.8 L87.6,32.2 L88.3,32.6 L89.0,33.0 L89.7,33.4 L90.3,33.8 L91.0,34.2 L91.7,34.6 L92.5,35.0 L93.2,35.4 L93.9,35.8 L94.6,36.1 L95.3,36.5 L96.0,36.9 L96.7,37.2 L97.4,37.6 L98.2,38.0 L98.9,38.3 L99.6,38.7 L100.3,39.0 L101.0,39.4 L101.8,39.7 L102.5,40.1 L103.2,40.4 L103.9,40.8 L104.7,41.1 L105.4,41.5 L106.1,41.8 L106.8,42.2 L107.5,42.5 L108.3,42.9 L109.0,43.2 L109.7,43.6 L110.4,43.9 L111.2,44.3 L111.9,44.6 L112.6,45.0 L113.3,45.3 L114.1,45.7 L114.8,46.0 L115.5,46.4 L116.2,46.7 L117.0,47.0 L117.7,47.4 L118.4,47.7 L119.1,48.1 L119.9,48.4 L120.6,48.7 L121.3,49.1 L122.1,49.4 L122.8,49.8 L123.5,50.1 L124.3,50.4 L125.0,50.7 L125.7,51.1 L126.5,51.4 L127.2,51.7 L127.9,52.0 L128.7,52.4 L129.4,52.7 L130.1,53.0 L130.9,53.3 L131.6,53.6 L132.4,53.9 L133.1,54.3 L133.8,54.6 L134.6,54.9 L135.3,55.2 L136.0,55.5 L136.8,55.9 L137.5,56.2 L138.2,56.6 L139.0,56.9 L139.7,57.2 L140.4,57.6 L141.1,58.0 L141.9,58.3 L142.6,58.7 L143.3,59.0 L144.0,59.4 L144.8,59.7 L145.5,60.0 L146.2,60.4 L146.9,60.7 L147.7,61.0 L148.4,61.3 L149.2,61.6 L149.9,61.9 L150.7,62.2 L151.4,62.5 L152.2,62.7 L152.9,63.0 L153.7,63.2 L154.5,63.5 L155.2,63.8 L156.0,64.0 L156.7,64.2 L157.5,64.5 L158.3,64.7 L159.1,65.0 L159.8,65.2 L160.6,65.4 L161.4,65.7 L162.1,65.9 L162.9,66.2 L163.7,66.4 L164.4,66.7 L165.2,66.9 L166.0,67.1 L166.7,67.4 L167.5,67.6 L168.3,67.8 L169.0,68.1 L169.8,68.3 L170.6,68.5 L171.3,68.7 L172.1,69.0 L172.9,69.2 L173.7,69.4 L174.4,69.6 L175.2,69.9 L176.0,70.1 L176.7,70.3 L177.5,70.5 L178.3,70.7 L179.1,70.9 L179.8,71.2 L180.6,71.4 L181.4,71.6 L182.2,71.8 L182.9,72.0 L183.7,72.2 L184.5,72.5 L185.3,72.7 L186.0,72.9 L186.8,73.1 L187.6,73.3 L188.3,73.5 L189.1,73.8 L189.9,74.0 L190.7,74.2 L191.4,74.5 L192.2,74.7 L193.0,74.9 L193.7,75.1 L194.5,75.4 L195.3,75.6 L196.1,75.8 L196.8,76.0 L197.6,76.2 L198.4,76.4 L199.2,76.6 L199.9,76.8 L200.7,77.0 L201.5,77.2 L202.3,77.4 L203.1,77.6 L203.8,77.8 L204.6,77.9 L205.4,78.1 L206.2,78.3 L207.0,78.5 L207.8,78.6 L208.5,78.8 L209.3,79.0 L210.1,79.1 L210.9,79.3 L211.7,79.5 L212.5,79.7 L213.3,79.8 L214.0,80.0 L214.8,80.2 L215.6,80.3 L216.4,80.5 L217.2,80.7 L218.0,80.9 L218.7,81.1 L219.5,81.3 L220.3,81.4 L221.1,81.6 L221.9,81.8 L222.7,82.0 L223.4,82.2 L224.2,82.4 L225.0,82.6 L225.8,82.8 L226.6,83.0 L227.3,83.2 L228.1,83.4 L228.9,83.6 L229.6,83.8 L230.4,84.1 L231.2,84.3 L232.0,84.5 L232.7,84.8 L233.5,85.0 L234.3,85.3 L235.0,85.5 L235.8,85.8 L236.5,86.1 L237.3,86.4 L238.0,86.7 L238.8,87.0 L239.5,87.3 L240.2,87.6 L241.0,88.0 L241.7,88.4 L242.4,88.7 L243.1,89.2 L243.8,89.6 L244.4,90.0 L245.0,90.5 L245.6,91.0 L246.2,91.6 L246.8,92.2 L247.3,92.8 L247.8,93.4 L248.4,94.0 L249.0,94.6 L249.5,95.1 L250.1,95.7 L250.7,96.3 L251.2,96.9 L251.8,97.5 L252.4,98.0 L253.1,98.4 L253.7,98.8 L254.4,99.2 L255.2,99.5 L255.9,99.9 L256.7,100.1 L257.5,100.4 L258.3,100.5 L259.0,100.6 L259.8,100.7 L260.6,100.8 L261.4,100.9 L262.2,101.0 L263.0,101.0 L263.8,101.1 L264.6,101.2 L265.5,101.2 L266.3,101.2 L267.1,101.3 L267.9,101.3 L268.7,101.3 L269.5,101.3 L270.3,101.3 L271.1,101.3 L271.9,101.3 L272.7,101.3 L273.5,101.4 L274.3,101.4 L275.1,101.4 L275.9,101.4 L276.7,101.4 L277.5,101.4 L278.3,101.4 L279.1,101.4 L279.9,101.4 L280.7,101.4 L281.5,101.4 L282.3,101.4 L283.1,101.4 L283.9,101.4 L284.7,101.4 L285.5,101.4 L286.3,101.4 L287.2,101.4 L288.0,101.4 L288.8,101.5 L289.6,101.5 L290.4,101.5 L291.2,101.5 L292.0,101.5 L292.8,101.5 L293.6,101.5 L294.4,101.5 L295.2,101.5 L296.0,101.5 L296.8,101.5 L297.6,101.5 L298.4,101.5 L299.2,101.5 L300.0,101.5 L300.8,101.5 L301.6,101.5 L302.4,101.5 L303.2,101.5 L304.0,101.5 L304.8,101.5 L305.6,101.5 L306.4,101.5 L307.2,101.5 L308.0,101.5 L308.8,101.5 L309.7,101.5 L310.5,101.5 L311.3,101.5 L312.1,101.5 L312.9,101.5 L313.7,101.5 L314.5,101.5 L315.3,101.5 L316.1,101.5 L316.9,101.5 L317.7,101.5 L318.5,101.5 L319.3,101.5 L320.1,101.5 L320.9,101.5 L321.7,101.5 L322.5,101.5 L323.3,101.5 L324.1,101.5 L324.9,101.5 L325.7,101.5 L326.5,101.5 L327.3,101.5 L328.1,101.5 L328.9,101.5 L329.7,101.5 L330.5,101.5 L331.3,101.5 L332.1,101.5 L332.9,101.5 L333.8,101.5 L334.6,101.5 L335.4,101.5 L336.2,101.5 L337.0,101.5 L337.8,101.5 L338.6,101.5 L339.4,101.5 L340.2,101.5 L341.0,101.5 L341.8,101.5 L342.6,101.5 L343.4,101.5 L344.2,101.5 L345.0,101.5 L345.8,101.5" fill="none" stroke="#ff0000" stroke-width="1.35" stroke-linejoin="round" stroke-linecap="butt" />
<path d="M46.3,2.5 L47.1,2.6 L47.9,2.7 L48.7,2.8 L49.5,2.9 L50.3,3.0 L51.1,3.1 L51.9,3.2 L52.7,3.4 L53.5,3.5 L54.3,3.6 L55.0,3.8 L55.8,3.9 L56.6,4.1 L57.4,4.3 L58.2,4.5 L58.9,4.7 L59.7,4.9 L60.5,5.1 L61.3,5.3 L62.1,5.6 L62.8,5.8 L63.6,6.1 L64.4,6.3 L65.1,6.6 L65.9,6.8 L66.6,7.1 L67.4,7.4 L68.1,7.7 L68.9,8.0 L69.6,8.3 L70.3,8.6 L71.1,8.9 L71.8,9.3 L72.5,9.6 L73.2,10.0 L73.9,10.3 L74.7,10.7 L75.4,11.1 L76.1,11.5 L76.8,11.9 L77.5,12.3 L78.2,12.6 L78.9,13.0 L79.6,13.4 L80.3,13.8 L81.0,14.2 L81.7,14.6 L82.4,15.0 L83.1,15.4 L83.8,15.8 L84.5,16.2 L85.2,16.7 L85.8,17.1 L86.5,17.5 L87.2,17.9 L87.9,18.4 L88.6,18.8 L89.2,19.2 L89.9,19.6 L90.6,20.1 L91.3,20.5 L92.0,20.9 L92.7,21.3 L93.4,21.7 L94.0,22.1 L94.7,22.6 L95.4,23.0 L96.1,23.4 L96.8,23.8 L97.5,24.2 L98.2,24.6 L98.9,25.0 L99.6,25.4 L100.2,25.9 L100.9,26.3 L101.6,26.7 L102.3,27.1 L103.0,27.5 L103.7,27.9 L104.4,28.3 L105.1,28.7 L105.8,29.1 L106.5,29.5 L107.2,29.9 L107.8,30.4 L108.5,30.8 L109.2,31.2 L109.9,31.6 L110.6,32.0 L111.3,32.4 L112.0,32.8 L112.7,33.2 L113.4,33.7 L114.0,34.1 L114.7,34.5 L115.4,34.9 L116.1,35.3 L116.8,35.7 L117.5,36.1 L118.2,36.5 L118.9,36.9 L119.6,37.3 L120.3,37.7 L121.0,38.1 L121.7,38.5 L122.4,38.9 L123.1,39.2 L123.8,39.6 L124.5,40.0 L125.3,40.3 L126.0,40.7 L126.7,41.0 L127.4,41.4 L128.1,41.7 L128.9,42.1 L129.6,42.4 L130.3,42.7 L131.1,43.1 L131.8,43.4 L132.5,43.7 L133.3,44.1 L134.0,44.4 L134.7,44.8 L135.4,45.1 L136.2,45.5 L136.9,45.8 L137.6,46.2 L138.3,46.6 L139.0,47.0 L139.7,47.4 L140.4,47.8 L141.1,48.2 L141.8,48.6 L142.4,49.0 L143.1,49.4 L143.8,49.8 L144.5,50.3 L145.2,50.7 L145.9,51.1 L146.6,51.5 L147.3,51.8 L148.0,52.2 L148.7,52.6 L149.4,53.0 L150.1,53.3 L150.9,53.7 L151.6,54.0 L152.3,54.4 L153.0,54.7 L153.8,55.1 L154.5,55.4 L155.2,55.8 L155.9,56.1 L156.7,56.4 L157.4,56.8 L158.1,57.1 L158.9,57.4 L159.6,57.7 L160.4,58.0 L161.1,58.4 L161.8,58.7 L162.6,59.0 L163.3,59.3 L164.1,59.6 L164.8,59.8 L165.6,60.1 L166.3,60.4 L167.1,60.7 L167.8,61.0 L168.6,61.3 L169.3,61.5 L170.1,61.8 L170.8,62.1 L171.6,62.4 L172.4,62.6 L173.1,62.9 L173.9,63.2 L174.6,63.4 L175.4,63.7 L176.2,63.9 L176.9,64.2 L177.7,64.5 L178.4,64.7 L179.2,65.0 L180.0,65.2 L180.7,65.5 L181.5,65.7 L182.2,66.0 L183.0,66.2 L183.8,66.5 L184.5,66.7 L185.3,66.9 L186.1,67.2 L186.8,67.4 L187.6,67.6 L188.4,67.9 L189.2,68.1 L189.9,68.3 L190.7,68.5 L191.5,68.8 L192.2,69.0 L193.0,69.2 L193.8,69.4 L194.6,69.6 L195.3,69.8 L196.1,70.0 L196.9,70.3 L197.7,70.5 L198.4,70.7 L199.2,70.9 L200.0,71.1 L200.8,71.2 L201.6,71.4 L202.3,71.6 L203.1,71.8 L203.9,72.0 L204.7,72.2 L205.5,72.3 L206.2,72.5 L207.0,72.7 L207.8,72.9 L208.6,73.1 L209.4,73.2 L210.2,73.4 L211.0,73.6 L211.7,73.8 L212.5,73.9 L213.3,74.1 L214.1,74.3 L214.9,74.5 L215.7,74.6 L216.4,74.8 L217.2,75.0 L218.0,75.2 L218.8,75.4 L219.6,75.6 L220.3,75.8 L221.1,76.0 L221.9,76.2 L222.7,76.4 L223.4,76.6 L224.2,76.8 L225.0,77.0 L225.8,77.2 L226.5,77.4 L227.3,77.6 L228.1,77.8 L228.9,78.0 L229.7,78.2 L230.4,78.4 L231.2,78.5 L232.0,78.7 L232.8,78.9 L233.6,79.1 L234.4,79.2 L235.1,79.4 L235.9,79.6 L236.7,79.7 L237.5,79.9 L238.3,80.1 L239.1,80.3 L239.9,80.4 L240.6,80.6 L241.4,80.8 L242.2,81.0 L243.0,81.2 L243.8,81.4 L244.5,81.6 L245.3,81.8 L246.1,82.0 L246.9,82.2 L247.7,82.4 L248.5,82.6 L249.2,82.8 L250.0,83.1 L250.8,83.3 L251.5,83.6 L252.3,83.8 L253.0,84.1 L253.7,84.4 L254.4,84.8 L255.2,85.1 L255.9,85.5 L256.6,85.9 L257.3,86.4 L257.9,86.8 L258.6,87.3 L259.2,87.8 L259.8,88.3 L260.4,88.8 L261.0,89.4 L261.5,90.0 L262.0,90.6 L262.5,91.2 L263.0,91.9 L263.6,92.5 L264.1,93.1 L264.7,93.7 L265.2,94.3 L265.8,94.9 L266.4,95.5 L267.0,96.1 L267.6,96.6 L268.2,97.0 L268.9,97.3 L269.6,97.6 L270.4,97.8 L271.2,98.1 L272.0,98.3 L272.8,98.4 L273.6,98.5 L274.4,98.7 L275.2,98.8 L276.0,98.9 L276.8,98.9 L277.6,99.0 L278.4,99.1 L279.2,99.2 L280.0,99.2 L280.8,99.3 L281.6,99.4 L282.4,99.4 L283.2,99.5 L284.0,99.5 L284.8,99.5 L285.6,99.6 L286.4,99.6 L287.2,99.7 L288.0,99.7 L288.8,99.7 L289.6,99.8 L290.4,99.8 L291.2,99.8 L292.0,99.9 L292.8,99.9 L293.6,99.9 L294.4,99.9 L295.2,100.0 L296.0,100.0 L296.8,100.0 L297.6,100.1 L298.4,100.1 L299.2,100.1 L300.0,100.1 L300.8,100.1 L301.6,100.2 L302.4,100.2 L303.2,100.2 L304.0,100.2 L304.9,100.2 L305.7,100.2 L306.5,100.3 L307.3,100.3 L308.1,100.3 L308.9,100.3 L309.7,100.3 L310.5,100.3 L311.3,100.3 L312.1,100.3 L312.9,100.3 L313.7,100.3 L314.5,100.3 L315.3,100.3 L316.1,100.3 L316.9,100.3 L317.7,100.3 L318.5,100.3 L319.3,100.3 L320.1,100.3 L320.9,100.3 L321.7,100.3 L322.5,100.3 L323.3,100.3 L324.1,100.3 L324.9,100.3 L325.7,100.3 L326.5,100.3 L327.3,100.3 L328.1,100.3 L328.9,100.3 L329.7,100.3 L330.5,100.3 L331.3,100.3 L332.1,100.3 L333.0,100.3 L333.8,100.3 L334.6,100.3 L335.4,100.3 L336.2,100.3 L337.0,100.3 L337.8,100.3 L338.6,100.3 L339.4,100.2 L340.2,100.2 L341.0,100.2 L341.8,100.2 L342.6,100.2 L343.4,100.2 L344.2,100.2 L345.0,100.2 L345.8,100.2" fill="none" stroke="#000" stroke-width="1.35" stroke-linejoin="round" stroke-linecap="butt" />
</g>
<g clip-path="url(#cb)">
<path d="M46.3,454.8 L47.1,454.3 L47.9,454.2 L48.7,453.4 L49.5,454.1 L50.3,454.2 L51.1,454.3 L51.9,454.1 L52.7,454.5 L53.5,454.3 L54.3,454.0 L55.1,455.0 L55.9,455.0 L56.7,455.5 L57.5,454.7 L58.3,454.6 L59.1,454.5 L59.9,454.1 L60.7,455.2 L61.5,454.2 L62.3,454.1 L63.1,454.4 L63.8,454.9 L64.6,454.1 L65.4,453.3 L66.2,453.2 L66.9,453.6 L67.7,453.0 L68.5,452.5 L69.3,452.5 L70.1,452.7 L70.9,453.1 L71.6,451.5 L72.4,451.7 L73.2,451.5 L74.1,450.6 L74.9,451.2 L75.7,451.0 L76.5,451.8 L77.2,451.1 L78.0,450.3 L78.8,451.2 L79.6,450.5 L80.3,449.7 L81.1,449.9 L81.8,449.6 L82.5,449.1 L83.2,449.1 L83.9,447.7 L84.6,448.2 L85.3,448.3 L86.0,447.8 L86.7,447.4 L87.3,446.9 L88.0,446.8 L88.7,445.4 L89.5,446.2 L90.3,444.8 L91.1,445.3 L91.9,444.6 L92.7,445.9 L93.5,445.9 L94.3,445.2 L95.2,446.0 L96.0,444.8 L96.8,445.2 L97.6,445.1 L98.4,444.5 L99.2,445.1 L100.0,445.7 L100.8,444.4 L101.6,445.2 L102.4,444.7 L103.2,445.5 L104.0,444.9 L104.8,444.9 L105.6,444.8 L106.4,444.6 L107.2,443.8 L108.0,445.1 L108.8,443.8 L109.6,444.5 L110.4,444.6 L111.2,443.9 L112.0,444.3 L112.8,444.7 L113.6,444.1 L114.4,443.7 L115.2,442.7 L116.0,443.6 L116.8,443.7 L117.6,443.7 L118.4,443.5 L119.2,444.0 L120.0,443.6 L120.8,443.7 L121.6,444.0 L122.4,443.3 L123.2,443.5 L124.0,444.6 L124.8,443.9 L125.6,442.9 L126.4,443.4 L127.2,443.6 L128.0,443.9 L128.8,443.3 L129.6,443.0 L130.4,442.8 L131.2,443.4 L132.0,443.1 L132.8,442.7 L133.6,442.8 L134.4,442.6 L135.2,443.1 L136.0,442.3 L136.8,442.8 L137.6,442.9 L138.4,442.7 L139.2,442.0 L140.0,442.9 L140.8,441.9 L141.6,442.3 L142.4,441.7 L143.2,441.2 L144.0,442.0 L144.8,442.0 L145.6,441.8 L146.4,441.8 L147.2,441.4 L148.0,441.3 L148.8,441.4 L149.6,442.3 L150.4,441.8 L151.2,441.1 L152.0,441.5 L152.8,441.0 L153.6,440.9 L154.4,441.5 L155.2,440.8 L156.0,440.2 L156.8,440.5 L157.6,440.9 L158.4,440.8 L159.2,441.3 L160.0,440.3 L160.8,440.9 L161.6,440.7 L162.4,440.4 L163.2,440.8 L164.0,440.6 L164.8,439.9 L165.6,440.7 L166.4,439.6 L167.2,440.2 L168.0,440.1 L168.8,440.2 L169.6,439.6 L170.4,439.9 L171.2,439.8 L172.0,440.2 L172.8,439.4 L173.6,439.7 L174.4,439.5 L175.2,438.9 L176.0,440.7 L176.8,439.4 L177.6,438.7 L178.4,439.9 L179.2,438.7 L180.0,439.3 L180.8,439.5 L181.6,438.7 L182.4,438.8 L183.2,438.7 L184.0,438.8 L184.8,438.0 L185.6,438.1 L186.4,438.6 L187.2,439.0 L188.0,438.8 L188.8,439.2 L189.6,438.7 L190.4,438.1 L191.2,438.2 L192.0,437.3 L192.8,437.7 L193.6,437.6 L194.4,438.1 L195.2,438.2 L196.0,437.6 L196.8,437.5 L197.6,437.0 L198.4,437.6 L199.2,437.7 L200.0,437.8 L200.8,437.1 L201.6,438.3 L202.4,437.9 L203.2,437.3 L204.0,437.0 L204.8,437.0 L205.6,437.2 L206.4,437.0 L207.2,437.2 L208.0,437.3 L208.8,437.5 L209.6,437.3 L210.4,436.7 L211.2,436.9 L212.0,436.5 L212.8,436.3 L213.6,437.4 L214.4,436.2 L215.2,437.3 L216.0,436.2 L216.8,436.4 L217.6,436.7 L218.4,436.2 L219.2,436.3 L220.0,436.0 L220.8,435.8 L221.6,435.9 L222.4,435.6 L223.2,436.6 L224.0,435.7 L224.8,436.5 L225.6,434.5 L226.4,435.7 L227.2,435.9 L228.0,435.4 L228.8,436.0 L229.6,435.7 L230.4,435.3 L231.2,435.6 L232.0,436.6 L232.8,435.4 L233.6,435.4 L234.4,435.0 L235.2,435.2 L236.0,434.5 L236.8,434.9 L237.6,436.1 L238.4,435.4 L239.2,435.2 L240.0,435.3 L240.8,435.6 L241.6,435.0 L242.4,435.6 L243.2,435.1 L244.0,434.7 L244.8,435.3 L245.7,433.5 L246.5,434.2 L247.3,434.6 L248.1,434.0 L248.9,434.3 L249.7,434.0 L250.5,434.0 L251.3,435.4 L252.1,434.5 L252.9,434.1 L253.7,434.7 L254.5,433.9 L255.3,434.4 L256.1,434.1 L256.9,434.6 L257.7,433.2 L258.5,434.2 L259.3,433.8 L260.1,433.2 L260.9,434.2 L261.7,433.2 L262.5,434.3 L263.3,433.8 L264.1,433.8 L264.9,433.5 L265.7,433.8 L266.5,432.5 L267.3,433.4 L268.1,433.0 L268.9,433.4 L269.7,433.2 L270.5,433.4 L271.3,432.7 L272.1,433.9 L272.9,434.1 L273.7,432.9 L274.5,432.9 L275.3,433.0 L276.1,433.4 L276.9,433.6 L277.7,432.2 L278.5,432.4 L279.3,432.2 L280.1,432.1 L280.9,431.8 L281.7,432.7 L282.5,431.9 L283.3,433.1 L284.1,432.8 L284.9,431.8 L285.7,431.8 L286.5,431.9 L287.3,432.8 L288.1,431.7 L288.9,431.4 L289.7,432.0 L290.5,432.1 L291.3,431.6 L292.1,432.6 L292.9,431.9 L293.7,432.0 L294.5,431.3 L295.3,431.7 L296.1,431.6 L296.9,430.6 L297.7,431.7 L298.5,430.7 L299.3,431.4 L300.1,430.7 L300.9,432.3 L301.7,431.4 L302.5,431.6 L303.3,431.6 L304.1,430.6 L304.9,430.1 L305.7,430.9 L306.5,431.4 L307.3,431.0 L308.1,431.3 L309.0,431.3 L309.8,430.1 L310.6,430.9 L311.4,431.6 L312.2,430.4 L313.0,429.7 L313.8,430.5 L314.6,430.3 L315.4,430.7 L316.2,430.0 L317.0,430.4 L317.8,429.3 L318.6,430.7 L319.4,430.9 L320.2,430.8 L321.0,429.4 L321.8,430.2 L322.6,428.7 L323.4,430.1 L324.2,429.9 L325.0,429.4 L325.8,430.0 L326.6,429.8 L327.4,430.2 L328.2,429.7 L329.0,429.7 L329.8,428.7 L330.6,429.0 L331.4,429.3 L332.2,429.6 L333.0,429.4 L333.8,430.0 L334.6,428.9 L335.4,429.1 L336.2,429.3 L337.0,429.0 L337.8,429.3 L338.6,428.8 L339.4,429.6 L340.2,428.8 L341.0,429.4 L341.8,428.8 L342.6,429.5 L343.4,428.1 L344.2,428.9 L345.0,428.5 L345.8,428.7" fill="none" stroke="#008080" stroke-width="1.35" stroke-linejoin="round" stroke-linecap="butt" />
<path d="M46.3,437.5 L47.1,437.5 L47.9,436.8 L48.6,437.1 L49.4,436.6 L50.2,436.0 L51.0,436.1 L51.8,436.3 L52.6,436.1 L53.3,435.4 L54.1,435.9 L54.9,435.5 L55.7,435.5 L56.5,435.4 L57.3,434.8 L58.1,435.2 L58.9,434.8 L59.7,435.4 L60.5,435.0 L61.3,434.7 L62.1,434.3 L62.9,434.5 L63.7,434.5 L64.5,433.9 L65.3,435.0 L66.1,434.3 L66.9,434.6 L67.7,433.6 L68.5,434.5 L69.3,433.4 L70.1,433.5 L70.9,433.9 L71.7,433.6 L72.5,432.7 L73.3,433.1 L74.1,433.6 L74.9,434.0 L75.7,433.5 L76.5,433.0 L77.3,433.3 L78.1,432.6 L78.9,433.1 L79.7,432.4 L80.5,432.7 L81.3,432.6 L82.1,432.9 L82.9,432.4 L83.7,432.9 L84.5,432.3 L85.3,432.6 L86.1,432.5 L86.9,431.6 L87.7,432.1 L88.5,432.1 L89.3,431.7 L90.1,432.0 L90.9,431.4 L91.7,432.0 L92.5,431.9 L93.3,431.8 L94.1,432.4 L94.9,431.7 L95.7,431.5 L96.5,431.2 L97.3,431.5 L98.1,431.0 L98.9,431.7 L99.7,431.0 L100.5,431.2 L101.3,431.8 L102.1,431.4 L102.9,431.1 L103.7,431.4 L104.5,430.9 L105.3,431.1 L106.1,430.8 L106.9,430.5 L107.7,430.8 L108.5,431.0 L109.3,430.5 L110.1,430.2 L110.9,430.3 L111.7,429.7 L112.5,430.2 L113.3,430.0 L114.1,431.0 L114.9,430.1 L115.7,429.7 L116.5,430.5 L117.3,430.1 L118.1,430.1 L118.9,430.1 L119.7,430.0 L120.5,429.8 L121.3,430.2 L122.1,430.0 L122.9,429.6 L123.7,429.7 L124.5,429.4 L125.3,429.7 L126.1,429.8 L126.9,429.7 L127.7,429.7 L128.5,429.4 L129.3,429.9 L130.1,429.2 L130.9,429.2 L131.7,429.1 L132.5,429.2 L133.3,429.0 L134.1,429.7 L134.9,429.1 L135.7,428.4 L136.5,428.7 L137.3,428.3 L138.1,429.0 L138.9,429.2 L139.7,428.5 L140.5,428.8 L141.3,428.5 L142.1,428.6 L142.9,429.0 L143.7,428.3 L144.5,427.9 L145.3,428.5 L146.1,428.4 L147.0,428.4 L147.8,428.4 L148.6,427.8 L149.4,427.3 L150.2,428.3 L151.0,427.7 L151.8,427.4 L152.6,427.4 L153.4,428.1 L154.2,427.7 L155.0,427.7 L155.8,427.8 L156.6,427.3 L157.4,427.1 L158.2,427.1 L159.0,426.9 L159.8,427.2 L160.6,426.9 L161.4,427.2 L162.2,426.9 L163.0,427.0 L163.8,427.2 L164.6,427.4 L165.4,427.4 L166.2,426.8 L167.0,426.8 L167.8,426.5 L168.6,427.0 L169.4,427.1 L170.2,426.3 L171.0,426.7 L171.8,426.3 L172.6,426.3 L173.4,426.3 L174.2,426.1 L175.0,426.4 L175.8,425.6 L176.6,425.8 L177.4,425.9 L178.2,425.6 L179.0,426.0 L179.8,425.3 L180.6,425.7 L181.4,425.2 L182.2,425.5 L183.0,425.7 L183.8,426.2 L184.6,425.7 L185.4,425.8 L186.2,425.3 L187.0,425.9 L187.8,425.0 L188.6,425.0 L189.4,424.6 L190.2,425.0 L191.0,425.2 L191.8,424.6 L192.6,424.6 L193.4,424.5 L194.2,424.5 L195.0,424.3 L195.8,424.0 L196.6,424.9 L197.4,423.7 L198.2,424.0 L199.0,424.3 L199.8,424.5 L200.6,424.0 L201.4,424.0 L202.2,424.0 L203.0,423.8 L203.8,424.2 L204.6,423.6 L205.4,423.4 L206.2,423.5 L207.0,423.7 L207.8,424.0 L208.6,424.0 L209.4,423.3 L210.2,422.9 L211.0,422.9 L211.8,424.0 L212.6,423.1 L213.4,423.3 L214.2,423.7 L215.0,422.8 L215.8,423.0 L216.6,422.8 L217.4,422.6 L218.2,423.2 L219.0,423.2 L219.8,422.2 L220.6,423.1 L221.4,422.7 L222.2,422.8 L223.0,422.7 L223.8,422.2 L224.6,422.5 L225.4,422.2 L226.2,423.1 L227.0,423.2 L227.9,422.5 L228.7,422.0 L229.5,422.8 L230.3,422.3 L231.1,422.9 L231.9,422.9 L232.7,422.8 L233.5,422.1 L234.3,421.9 L235.1,422.0 L235.9,422.1 L236.7,421.8 L237.5,422.5 L238.3,422.3 L239.1,422.0 L239.9,421.9 L240.7,422.2 L241.5,422.4 L242.3,421.3 L243.1,422.0 L243.9,421.8 L244.7,421.6 L245.5,421.7 L246.3,421.9 L247.1,422.4 L247.9,421.8 L248.7,421.6 L249.5,421.3 L250.3,421.9 L251.1,421.4 L251.9,421.6 L252.7,421.8 L253.5,421.6 L254.3,421.4 L255.1,421.5 L255.9,421.8 L256.7,421.5 L257.6,421.5 L258.4,421.6 L259.2,421.3 L260.0,421.5 L260.8,421.3 L261.6,421.7 L262.4,421.5 L263.2,420.7 L264.0,421.2 L264.8,421.6 L265.6,421.1 L266.4,421.0 L267.2,421.5 L268.0,420.7 L268.8,421.1 L269.6,421.2 L270.4,421.3 L271.2,420.6 L272.0,420.5 L272.8,421.4 L273.6,420.6 L274.4,420.8 L275.2,421.6 L276.0,420.6 L276.8,420.0 L277.6,421.6 L278.4,421.0 L279.2,420.8 L280.0,421.5 L280.8,420.5 L281.6,421.0 L282.4,420.5 L283.2,420.3 L284.0,420.6 L284.8,420.6 L285.6,420.7 L286.4,420.6 L287.2,420.0 L288.0,420.1 L288.8,420.7 L289.6,420.2 L290.4,420.0 L291.2,420.3 L292.0,420.3 L292.8,420.2 L293.6,419.5 L294.4,419.5 L295.2,419.8 L296.0,419.9 L296.9,419.1 L297.7,419.3 L298.5,419.3 L299.3,419.6 L300.1,418.9 L300.9,420.1 L301.7,419.2 L302.5,419.3 L303.3,419.8 L304.1,419.2 L304.9,419.2 L305.7,418.8 L306.5,419.0 L307.3,418.5 L308.1,418.7 L308.9,418.7 L309.7,418.4 L310.5,419.0 L311.3,418.8 L312.1,418.0 L312.9,418.8 L313.7,418.2 L314.5,418.7 L315.3,418.2 L316.1,418.3 L316.9,418.6 L317.7,419.0 L318.5,417.9 L319.3,418.2 L320.1,418.2 L320.9,418.7 L321.7,418.2 L322.5,418.4 L323.3,418.7 L324.1,418.5 L324.9,418.0 L325.7,418.0 L326.5,418.0 L327.3,418.2 L328.1,417.8 L328.9,418.1 L329.7,418.2 L330.5,417.9 L331.3,417.9 L332.1,418.1 L332.9,418.2 L333.8,417.5 L334.6,417.6 L335.4,418.4 L336.2,417.9 L337.0,417.5 L337.8,417.9 L338.6,418.4 L339.4,417.7 L340.2,417.5 L341.0,417.8 L341.8,418.4 L342.6,417.6 L343.4,418.0 L344.2,418.1 L345.0,418.0 L345.8,417.7" fill="none" stroke="#ff00ff" stroke-width="1.35" stroke-linejoin="round" stroke-linecap="butt" />
<path d="M46.3,396.0 L47.1,395.8 L47.9,397.1 L48.7,396.2 L49.5,396.5 L50.3,397.4 L51.0,396.5 L51.8,396.9 L52.6,397.5 L53.3,397.5 L54.1,397.4 L54.8,398.1 L55.5,398.3 L56.3,399.0 L57.0,398.4 L57.7,399.2 L58.4,400.4 L59.1,401.0 L59.8,400.0 L60.5,401.3 L61.2,401.1 L61.9,401.5 L62.6,401.9 L63.3,402.5 L64.0,403.5 L64.7,403.7 L65.4,403.9 L66.1,404.1 L66.8,404.6 L67.5,405.0 L68.2,405.8 L68.9,405.6 L69.6,406.2 L70.3,406.6 L71.0,407.0 L71.7,407.5 L72.4,407.8 L73.2,408.7 L73.9,408.5 L74.6,409.5 L75.3,409.1 L76.0,409.3 L76.8,409.9 L77.5,410.4 L78.2,410.7 L78.9,411.5 L79.7,411.8 L80.4,411.8 L81.1,411.9 L81.8,412.3 L82.5,413.4 L83.2,413.2 L83.9,413.0 L84.6,413.6 L85.3,414.1 L86.1,415.2 L86.8,415.0 L87.5,416.4 L88.2,416.1 L88.9,416.2 L89.7,416.3 L90.4,417.1 L91.1,416.9 L91.9,417.0 L92.6,417.8 L93.4,417.9 L94.2,418.6 L94.9,418.4 L95.7,417.5 L96.5,419.2 L97.2,418.3 L98.0,420.0 L98.8,420.3 L99.6,419.5 L100.4,419.4 L101.1,419.5 L101.9,420.6 L102.7,420.3 L103.5,420.2 L104.3,420.5 L105.1,421.6 L105.9,421.0 L106.7,421.3 L107.5,421.5 L108.3,421.7 L109.1,421.8 L109.9,421.1 L110.7,421.4 L111.5,421.3 L112.3,421.4 L113.1,422.2 L113.9,421.6 L114.7,421.8 L115.5,421.6 L116.3,421.7 L117.1,422.3 L117.9,421.8 L118.7,421.9 L119.5,422.3 L120.3,422.3 L121.1,422.5 L121.9,422.2 L122.7,421.5 L123.5,422.5 L124.3,422.4 L125.1,422.6 L125.9,421.8 L126.7,423.3 L127.5,421.7 L128.3,422.5 L129.1,422.2 L129.9,422.0 L130.7,422.5 L131.5,422.1 L132.3,421.2 L133.1,421.7 L133.9,422.4 L134.7,423.1 L135.5,421.6 L136.3,422.2 L137.1,422.8 L137.9,422.5 L138.8,422.0 L139.6,421.6 L140.4,421.5 L141.2,421.9 L142.0,422.0 L142.8,421.3 L143.6,421.5 L144.4,422.3 L145.2,422.0 L146.0,421.9 L146.8,422.0 L147.6,421.9 L148.4,422.6 L149.2,422.9 L150.0,423.1 L150.8,422.5 L151.6,422.5 L152.4,422.8 L153.2,422.9 L154.0,422.8 L154.8,422.7 L155.6,421.9 L156.4,421.5 L157.2,422.5 L158.0,422.1 L158.8,422.1 L159.6,421.7 L160.4,421.5 L161.2,422.6 L162.0,422.2 L162.8,421.5 L163.6,422.1 L164.4,422.1 L165.2,422.2 L166.1,422.9 L166.9,421.9 L167.7,421.3 L168.5,421.9 L169.3,421.6 L170.1,422.0 L170.9,421.9 L171.7,421.9 L172.5,421.5 L173.3,421.9 L174.1,421.5 L174.9,421.9 L175.7,421.5 L176.5,421.2 L177.3,421.8 L178.1,421.3 L178.9,422.2 L179.7,421.8 L180.5,421.7 L181.3,421.6 L182.1,421.5 L182.9,420.5 L183.7,422.0 L184.5,421.1 L185.3,421.8 L186.1,421.1 L186.9,421.3 L187.7,421.3 L188.5,420.9 L189.3,421.2 L190.1,421.5 L190.9,421.1 L191.7,420.7 L192.5,421.0 L193.3,421.3 L194.1,421.7 L194.9,421.5 L195.8,421.3 L196.6,420.7 L197.4,421.5 L198.2,421.1 L199.0,420.9 L199.8,421.4 L200.6,421.2 L201.4,421.2 L202.2,420.5 L203.0,420.7 L203.8,420.2 L204.6,420.9 L205.4,420.8 L206.2,421.2 L207.0,420.9 L207.8,420.6 L208.6,421.6 L209.4,420.3 L210.2,420.1 L211.0,420.4 L211.8,420.8 L212.6,420.4 L213.4,420.4 L214.2,420.1 L215.0,421.1 L215.8,420.2 L216.6,420.0 L217.4,420.4 L218.2,420.1 L219.0,420.3 L219.8,420.9 L220.6,420.1 L221.4,420.2 L222.2,420.1 L223.0,420.1 L223.8,420.5 L224.6,420.4 L225.4,420.0 L226.2,419.7 L227.0,420.0 L227.8,420.3 L228.7,420.0 L229.5,419.9 L230.3,419.1 L231.1,420.3 L231.9,419.2 L232.7,419.2 L233.5,419.6 L234.3,419.7 L235.1,419.7 L235.9,419.3 L236.7,419.4 L237.5,419.3 L238.3,418.7 L239.1,419.4 L239.9,419.1 L240.7,419.6 L241.5,419.3 L242.3,419.7 L243.1,419.5 L243.9,419.6 L244.7,419.7 L245.5,419.4 L246.3,419.0 L247.1,419.6 L247.9,418.6 L248.7,418.9 L249.5,419.3 L250.3,418.8 L251.1,419.1 L251.9,418.4 L252.7,418.5 L253.5,418.9 L254.3,419.0 L255.1,419.1 L255.9,418.5 L256.7,418.7 L257.5,418.8 L258.3,418.6 L259.1,417.9 L259.9,418.1 L260.7,418.9 L261.5,417.8 L262.3,418.5 L263.1,418.0 L263.9,418.6 L264.7,417.8 L265.5,418.1 L266.3,417.2 L267.1,418.0 L267.9,418.4 L268.7,417.3 L269.6,418.4 L270.4,417.5 L271.2,417.8 L272.0,416.6 L272.8,418.2 L273.6,417.3 L274.4,417.4 L275.2,417.1 L276.0,417.2 L276.8,418.0 L277.6,417.3 L278.4,417.8 L279.2,417.4 L280.0,417.5 L280.8,417.2 L281.6,417.5 L282.4,418.4 L283.2,417.5 L284.0,417.4 L284.8,417.0 L285.6,417.6 L286.4,417.7 L287.2,416.4 L288.0,416.5 L288.8,417.9 L289.6,417.1 L290.4,417.0 L291.2,417.1 L292.0,417.3 L292.8,417.2 L293.6,416.7 L294.4,417.6 L295.2,416.7 L296.0,416.3 L296.8,416.4 L297.6,416.5 L298.4,416.4 L299.2,416.5 L300.0,416.6 L300.8,415.1 L301.6,416.1 L302.4,416.8 L303.2,416.6 L304.0,416.1 L304.9,416.1 L305.7,416.8 L306.5,416.2 L307.3,416.1 L308.1,417.0 L308.9,416.1 L309.7,416.5 L310.5,416.2 L311.3,416.2 L312.1,415.8 L312.9,415.8 L313.7,416.7 L314.5,415.7 L315.3,416.3 L316.1,415.7 L316.9,416.1 L317.7,416.1 L318.5,415.5 L319.3,416.6 L320.1,416.0 L320.9,416.6 L321.7,415.7 L322.5,416.5 L323.3,417.1 L324.1,416.2 L324.9,415.8 L325.7,416.3 L326.5,416.1 L327.3,416.0 L328.1,416.0 L328.9,415.8 L329.7,416.2 L330.5,415.9 L331.3,415.7 L332.1,416.4 L332.9,416.0 L333.8,417.1 L334.6,415.9 L335.4,415.7 L336.2,415.8 L337.0,416.2 L337.8,415.7 L338.6,415.5 L339.4,416.7 L340.2,415.5 L341.0,416.6 L341.8,416.1 L342.6,415.6 L343.4,416.7 L344.2,415.9 L345.0,415.6 L345.8,416.0" fill="none" stroke="#00ffff" stroke-width="1.35" stroke-linejoin="round" stroke-linecap="butt" />
<path d="M46.3,370.6 L47.1,371.1 L47.9,371.0 L48.7,370.7 L49.5,370.2 L50.3,371.8 L51.1,372.0 L51.9,371.1 L52.6,372.7 L53.4,372.0 L54.2,373.5 L54.9,372.9 L55.7,372.7 L56.4,373.7 L57.1,373.5 L57.9,373.9 L58.6,374.2 L59.3,374.5 L60.0,375.2 L60.7,375.7 L61.4,375.9 L62.1,376.9 L62.9,375.9 L63.6,376.6 L64.3,377.6 L65.0,377.1 L65.7,378.6 L66.4,378.6 L67.1,378.6 L67.8,379.3 L68.6,379.2 L69.3,379.2 L70.0,380.5 L70.7,380.9 L71.4,380.9 L72.1,381.2 L72.9,380.7 L73.6,381.6 L74.3,382.0 L75.1,382.6 L75.8,383.4 L76.6,382.9 L77.3,383.1 L78.0,384.2 L78.8,384.0 L79.5,383.8 L80.3,385.2 L81.0,384.6 L81.7,385.1 L82.5,385.2 L83.2,386.1 L83.9,386.8 L84.7,386.5 L85.4,387.1 L86.1,387.1 L86.8,388.6 L87.6,388.6 L88.3,388.1 L89.0,388.9 L89.8,389.4 L90.5,389.5 L91.2,389.3 L92.0,389.9 L92.7,390.6 L93.4,390.8 L94.2,390.5 L94.9,391.4 L95.7,391.0 L96.4,390.9 L97.2,392.1 L97.9,392.7 L98.7,392.8 L99.4,393.5 L100.2,393.9 L100.9,393.6 L101.7,393.5 L102.4,394.1 L103.2,393.8 L103.9,394.7 L104.6,394.9 L105.4,395.4 L106.1,396.1 L106.9,395.0 L107.6,396.6 L108.3,396.4 L109.0,397.3 L109.8,397.3 L110.5,397.2 L111.2,398.3 L112.0,398.0 L112.7,398.8 L113.4,398.7 L114.2,399.1 L114.9,399.6 L115.6,400.7 L116.4,400.4 L117.1,400.4 L117.9,401.4 L118.6,401.0 L119.4,401.1 L120.2,401.1 L120.9,401.8 L121.7,402.1 L122.4,402.0 L123.2,401.7 L124.0,402.7 L124.7,403.1 L125.5,403.1 L126.3,403.1 L127.1,403.2 L127.8,403.7 L128.6,404.7 L129.4,404.4 L130.2,403.8 L131.0,405.0 L131.7,404.8 L132.5,406.2 L133.2,405.4 L134.0,405.8 L134.7,406.2 L135.4,406.6 L136.1,406.9 L136.8,407.3 L137.4,407.6 L138.1,407.9 L138.8,408.4 L139.5,408.5 L140.1,409.3 L140.8,409.6 L141.5,410.2 L142.2,410.6 L142.9,411.1 L143.6,411.8 L144.2,412.0 L144.9,412.6 L145.6,413.1 L146.3,413.3 L147.0,413.8 L147.7,414.4 L148.4,413.9 L149.1,415.2 L149.8,415.0 L150.5,413.9 L151.3,416.0 L152.1,415.5 L152.8,416.6 L153.6,416.1 L154.4,416.7 L155.1,417.3 L155.9,416.9 L156.7,417.0 L157.5,417.5 L158.3,418.3 L159.1,418.3 L159.9,418.6 L160.6,418.3 L161.4,418.5 L162.2,418.9 L163.0,418.8 L163.8,418.3 L164.6,419.1 L165.4,418.7 L166.2,418.7 L167.0,419.2 L167.8,419.2 L168.6,419.7 L169.4,419.5 L170.2,419.3 L171.0,419.5 L171.8,419.4 L172.6,419.5 L173.4,420.2 L174.2,419.9 L175.0,419.6 L175.8,419.6 L176.6,419.5 L177.4,419.7 L178.2,419.1 L179.0,420.0 L179.8,419.7 L180.6,420.1 L181.4,420.2 L182.2,419.9 L183.0,419.4 L183.8,419.3 L184.6,420.2 L185.4,420.2 L186.2,419.3 L187.0,419.5 L187.8,420.3 L188.6,419.9 L189.4,420.7 L190.2,420.1 L191.0,420.3 L191.8,419.8 L192.6,419.7 L193.5,419.3 L194.3,418.8 L195.1,420.4 L195.9,420.2 L196.7,419.7 L197.5,420.3 L198.3,419.3 L199.1,420.6 L199.9,420.1 L200.7,420.6 L201.5,419.2 L202.3,420.5 L203.1,420.2 L203.9,420.0 L204.7,419.4 L205.5,419.9 L206.3,419.9 L207.1,419.5 L207.9,419.1 L208.7,419.2 L209.5,419.4 L210.3,420.0 L211.1,420.0 L211.9,420.2 L212.7,419.6 L213.5,418.8 L214.3,419.0 L215.1,418.8 L215.9,419.2 L216.7,419.8 L217.5,419.1 L218.3,419.0 L219.1,419.4 L219.9,419.4 L220.7,419.5 L221.5,418.7 L222.3,418.7 L223.1,418.8 L223.9,419.3 L224.7,419.0 L225.5,418.5 L226.3,419.7 L227.1,418.6 L227.9,418.8 L228.7,418.7 L229.5,418.4 L230.3,418.7 L231.1,418.7 L231.9,418.7" fill="none" stroke="#0000ff" stroke-width="1.35" stroke-linejoin="round" stroke-linecap="butt" />
<path d="M231.1,418.7 L231.9,418.7 L232.7,418.7 L233.5,418.3 L234.3,418.1 L235.1,419.0 L235.9,418.4 L236.7,418.9 L237.6,418.6 L238.4,419.5 L239.2,418.3 L240.0,417.6 L240.8,418.1 L241.6,418.7 L242.4,419.0 L243.2,418.9 L244.0,418.4 L244.8,418.7 L245.6,417.6 L246.4,417.8 L247.2,417.6 L248.0,418.2 L248.8,418.4 L249.6,417.9 L250.4,418.0 L251.2,417.6 L252.0,417.6 L252.8,417.8 L253.6,418.3 L254.4,417.8 L255.2,417.8 L256.0,418.0 L256.8,417.8 L257.6,417.2 L258.4,418.2 L259.2,417.4 L260.0,417.4 L260.8,417.3 L261.6,417.6 L262.4,417.2 L263.2,417.4 L264.0,417.9 L264.8,416.8 L265.6,416.4 L266.4,417.6 L267.2,417.2 L268.0,417.3 L268.8,417.3 L269.6,416.8 L270.4,417.0 L271.2,416.2 L272.0,416.8 L272.8,416.9 L273.6,416.3 L274.4,416.5 L275.2,416.7 L276.0,416.8 L276.8,416.6 L277.6,417.2 L278.4,416.9 L279.2,416.9 L280.0,415.8 L280.8,416.3 L281.6,416.5 L282.4,416.3 L283.2,416.5 L284.0,416.1 L284.8,416.0 L285.6,416.3 L286.4,416.3 L287.3,416.1 L288.1,416.2 L288.9,416.6 L289.7,416.4 L290.5,416.5 L291.3,416.4 L292.1,416.1 L292.9,415.9 L293.7,416.8 L294.5,416.1 L295.3,416.3 L296.1,415.7 L296.9,415.4 L297.7,415.4 L298.5,415.8 L299.3,415.4 L300.1,416.2 L300.9,415.7 L301.7,415.6 L302.5,416.5 L303.3,415.6 L304.1,415.6 L304.9,416.9 L305.7,415.9 L306.5,415.8 L307.3,415.5 L308.1,416.2 L308.9,416.2 L309.7,414.7 L310.5,415.6 L311.3,415.7 L312.1,415.9 L312.9,415.1 L313.7,415.6 L314.5,416.3 L315.3,416.1 L316.1,415.1 L316.9,415.7 L317.7,415.2 L318.5,415.9 L319.3,414.3 L320.1,415.9 L320.9,415.6 L321.7,415.9 L322.5,415.0 L323.3,415.4 L324.1,415.0 L324.9,415.6 L325.7,415.5 L326.5,416.2 L327.3,415.7 L328.1,414.5 L329.0,415.5 L329.8,415.4 L330.6,415.8 L331.4,415.7 L332.2,415.0 L333.0,415.2 L333.8,415.8 L334.6,415.0 L335.4,415.4 L336.2,414.9 L337.0,415.8 L337.8,415.8 L338.6,415.3 L339.4,414.9 L340.2,415.1 L341.0,415.2 L341.8,415.1 L342.6,415.4 L343.4,414.6 L344.2,414.7 L345.0,414.8 L345.8,415.6" fill="none" stroke="#0000ff" stroke-width="1.35" stroke-linejoin="round" stroke-linecap="butt" stroke-dasharray="1.7 1.6"/>
<path d="M46.1,294.2 L46.8,294.6 L47.4,295.1 L48.1,295.5 L48.8,295.9 L49.5,296.4 L50.2,296.8 L50.9,297.2 L51.5,297.6 L52.2,298.0 L52.9,298.4 L53.7,298.8 L54.4,299.2 L55.1,299.6 L55.8,300.0 L56.5,300.4 L57.2,300.8 L57.8,301.2 L58.5,301.6 L59.2,302.1 L59.8,302.6 L60.4,303.1 L61.1,303.6 L61.7,304.1 L62.2,304.7 L62.8,305.3 L63.3,305.9 L63.8,306.5 L64.3,307.1 L64.8,307.7 L65.2,308.4 L65.7,309.1 L66.1,309.7 L66.6,310.4 L67.0,311.1 L67.4,311.8 L67.9,312.5 L68.3,313.2 L68.7,313.8 L69.2,314.5 L69.6,315.2 L70.1,315.8 L70.6,316.5 L71.0,317.2 L71.5,317.8 L72.0,318.5 L72.4,319.1 L72.9,319.8 L73.3,320.4 L73.8,321.1 L74.3,321.7 L74.8,322.4 L75.3,323.0 L75.7,323.7 L76.2,324.3 L76.7,324.9 L77.2,325.5 L77.8,326.2 L78.3,326.8 L78.8,327.4 L79.3,328.0 L79.9,328.6 L80.4,329.2 L80.9,329.8 L81.5,330.4 L82.0,331.0 L82.6,331.6 L83.1,332.1 L83.7,332.7 L84.2,333.3 L84.8,333.9 L85.4,334.4 L85.9,335.0 L86.5,335.6 L87.1,336.1 L87.7,336.7 L88.3,337.2 L88.8,337.8 L89.4,338.3 L90.0,338.8 L90.7,339.4 L91.3,339.9 L91.9,340.4 L92.6,340.8 L93.2,341.3 L93.8,341.9 L94.4,342.4 L95.0,342.9 L95.6,343.5 L96.1,344.1 L96.7,344.6 L97.2,345.2 L97.7,345.9 L98.3,346.5 L98.8,347.1 L99.3,347.7 L99.8,348.3 L100.4,348.9 L100.9,349.5 L101.5,350.1 L102.0,350.6 L102.6,351.2 L103.2,351.8 L103.8,352.3 L104.4,352.9 L105.0,353.4 L105.6,353.9 L106.2,354.5 L106.8,355.0 L107.4,355.5 L108.0,356.0 L108.7,356.5 L109.3,357.0 L110.0,357.4 L110.6,357.9 L111.3,358.4 L111.9,358.8 L112.6,359.3 L113.3,359.7 L114.0,360.1 L114.7,360.6 L115.3,361.0 L116.0,361.4 L116.7,361.8 L117.4,362.2 L118.1,362.6 L118.8,362.9 L119.6,363.3 L120.3,363.6 L121.0,364.0 L121.7,364.3 L122.5,364.7 L123.2,365.1 L123.9,365.4 L124.6,365.8 L125.3,366.2 L126.0,366.6 L126.7,367.0 L127.4,367.4 L128.1,367.8 L128.8,368.2 L129.5,368.6 L130.2,368.9 L130.9,369.3 L131.6,369.7 L132.3,370.1 L133.1,370.4 L133.8,370.8 L134.5,371.2 L135.2,371.5 L135.9,371.9 L136.6,372.3 L137.3,372.7 L138.0,373.0 L138.8,373.4 L139.5,373.8 L140.2,374.2 L140.9,374.5 L141.6,374.9 L142.3,375.3 L143.0,375.7 L143.7,376.0 L144.4,376.4 L145.1,376.8 L145.8,377.2 L146.6,377.6 L147.3,377.9 L148.0,378.3 L148.7,378.7 L149.4,379.1 L150.1,379.5 L150.8,379.9 L151.5,380.2 L152.2,380.6 L152.9,381.0 L153.6,381.4 L154.3,381.8 L155.0,382.2 L155.7,382.6 L156.4,383.0 L157.1,383.4 L157.8,383.8 L158.5,384.1 L159.2,384.5 L159.9,384.9 L160.6,385.3 L161.4,385.7 L162.1,386.0 L162.8,386.4 L163.5,386.8 L164.2,387.2 L164.9,387.5 L165.6,387.9 L166.3,388.3 L167.0,388.7 L167.7,389.0 L168.5,389.4 L169.2,389.8 L169.9,390.1 L170.6,390.5 L171.3,390.9 L172.0,391.2 L172.8,391.6 L173.5,391.9 L174.2,392.3 L174.9,392.6 L175.7,392.9 L176.4,393.3 L177.1,393.6 L177.9,394.0 L178.6,394.3 L179.3,394.6 L180.1,395.0 L180.8,395.3 L181.5,395.6 L182.3,395.9 L183.0,396.2 L183.7,396.6 L184.5,396.9 L185.2,397.2 L186.0,397.5 L186.7,397.8 L187.5,398.1 L188.2,398.3 L189.0,398.6 L189.7,398.9 L190.5,399.1 L191.3,399.4 L192.0,399.6 L192.8,399.9 L193.5,400.2 L194.3,400.5 L195.0,400.8 L195.7,401.2 L196.5,401.5 L197.2,401.8 L198.0,402.2 L198.7,402.6 L199.4,402.9 L200.1,403.3 L200.8,403.7 L201.4,404.1 L202.1,404.6 L202.7,405.1 L203.3,405.6 L203.9,406.2 L204.5,406.8 L205.0,407.4 L205.6,407.9 L206.1,408.5 L206.7,409.1 L207.3,409.6 L208.0,410.1 L208.6,410.5 L209.3,411.0 L210.0,411.4 L210.7,411.8 L211.4,412.2 L212.1,412.6 L212.8,413.2 L213.6,413.7 L214.3,413.8 L215.1,413.2 L215.8,414.1 L216.6,414.7 L217.4,414.4 L218.2,414.4 L219.0,414.8 L219.8,414.7 L220.6,415.2 L221.4,415.2 L222.2,415.8 L222.9,415.6 L223.7,415.4 L224.5,415.9 L225.3,416.1 L226.1,415.7 L226.9,415.8 L227.7,415.2 L228.5,416.2 L229.3,415.8 L230.1,415.3 L230.9,415.4 L231.7,415.9 L232.5,416.3 L233.3,416.0 L234.1,416.2 L235.0,415.7 L235.8,415.6 L236.6,416.4 L237.4,416.2 L238.2,416.1 L239.0,416.5 L239.8,415.8 L240.6,416.0 L241.4,416.4 L242.2,416.7 L243.0,416.1 L243.8,416.7 L244.6,415.9 L245.4,416.2 L246.2,416.0 L247.0,415.6 L247.8,416.2 L248.6,416.4 L249.4,416.0 L250.2,416.0 L251.0,416.5 L251.8,415.6 L252.6,415.5 L253.4,415.8 L254.2,415.6 L255.0,416.4 L255.8,416.1 L256.6,415.7 L257.5,415.8 L258.3,416.9 L259.1,415.7 L259.9,415.7 L260.7,416.0 L261.5,416.1 L262.3,415.9 L263.1,415.5 L263.9,415.4 L264.7,416.0 L265.5,415.8 L266.3,415.2 L267.1,416.1 L267.9,416.0 L268.7,415.6 L269.5,415.6 L270.3,415.7 L271.1,415.4 L271.9,415.2 L272.7,415.7 L273.5,415.1 L274.3,415.7 L275.1,415.0 L275.9,415.5 L276.7,415.4 L277.5,416.0 L278.3,415.1 L279.1,414.9 L279.9,415.2 L280.7,415.0 L281.5,415.1 L282.3,415.4 L283.2,415.5 L284.0,415.8 L284.8,415.0 L285.6,416.1 L286.4,415.8 L287.2,415.1 L288.0,414.4 L288.8,415.1 L289.6,415.1 L290.4,414.3 L291.2,415.1 L292.0,414.9 L292.8,414.7 L293.6,415.2 L294.4,415.3 L295.2,414.7 L296.0,415.0 L296.8,414.6 L297.6,414.6 L298.4,414.8 L299.2,415.0 L300.0,414.6 L300.8,414.0 L301.6,414.9 L302.4,414.2 L303.2,414.7 L304.0,415.3 L304.8,414.6 L305.6,414.2 L306.4,414.1 L307.2,415.0 L308.0,414.6 L308.9,414.7 L309.7,414.8 L310.5,414.5 L311.3,414.4 L312.1,414.2 L312.9,413.5 L313.7,414.0 L314.5,414.4 L315.3,414.4 L316.1,414.6 L316.9,414.4 L317.7,414.5 L318.5,414.6 L319.3,414.1 L320.1,414.3 L320.9,413.8 L321.7,414.7 L322.5,414.3 L323.3,414.5 L324.1,414.8 L324.9,414.6 L325.7,414.3 L326.5,414.5 L327.3,413.8 L328.1,414.4 L328.9,414.3 L329.7,413.7 L330.5,414.6 L331.3,414.0 L332.1,414.4 L332.9,414.0 L333.8,414.5 L334.6,414.6 L335.4,413.9 L336.2,413.6 L337.0,414.1 L337.8,414.4 L338.6,414.0 L339.4,413.9 L340.2,414.2 L341.0,413.1 L341.8,413.8 L342.6,413.6 L343.4,414.1 L344.2,413.8 L345.0,413.6 L345.8,413.9" fill="none" stroke="#00ff00" stroke-width="1.35" stroke-linejoin="round" stroke-linecap="butt" />
<path d="M46.1,250.9 L46.8,250.4 L47.5,250.0 L48.2,249.6 L48.9,249.3 L49.7,249.0 L50.4,248.8 L51.2,248.6 L52.0,248.4 L52.8,248.3 L53.6,248.1 L54.4,248.0 L55.2,248.0 L56.0,248.0 L56.8,248.1 L57.6,248.2 L58.4,248.4 L59.2,248.6 L60.0,248.8 L60.7,249.0 L61.4,249.4 L62.0,249.9 L62.7,250.4 L63.3,250.9 L63.9,251.5 L64.5,252.1 L65.0,252.7 L65.5,253.3 L65.9,253.9 L66.4,254.6 L66.8,255.3 L67.3,256.0 L67.7,256.7 L68.1,257.4 L68.6,258.0 L69.0,258.7 L69.4,259.4 L69.7,260.1 L70.1,260.8 L70.5,261.6 L70.9,262.3 L71.3,263.0 L71.6,263.7 L72.0,264.4 L72.4,265.1 L72.8,265.8 L73.2,266.5 L73.6,267.2 L74.0,267.9 L74.4,268.6 L74.8,269.3 L75.3,269.9 L75.7,270.6 L76.1,271.3 L76.5,272.0 L76.9,272.7 L77.3,273.4 L77.7,274.1 L78.1,274.8 L78.5,275.5 L78.8,276.2 L79.2,276.9 L79.6,277.6 L80.0,278.3 L80.4,279.0 L80.8,279.7 L81.2,280.4 L81.6,281.1 L82.0,281.8 L82.3,282.6 L82.7,283.3 L83.1,284.0 L83.5,284.7 L83.8,285.4 L84.2,286.1 L84.6,286.8 L84.9,287.5 L85.3,288.3 L85.7,289.0 L86.0,289.7 L86.4,290.4 L86.8,291.1 L87.2,291.8 L87.5,292.5 L87.9,293.3 L88.3,294.0 L88.6,294.7 L89.0,295.5 L89.3,296.2 L89.7,296.9 L90.0,297.7 L90.4,298.4 L90.8,299.1 L91.1,299.8 L91.5,300.6 L91.9,301.3 L92.3,301.9 L92.7,302.6 L93.2,303.3 L93.6,303.9 L94.1,304.5 L94.6,305.1 L95.2,305.6 L95.8,306.2 L96.4,306.7 L97.0,307.2 L97.6,307.8 L98.2,308.3 L98.8,308.9 L99.4,309.5 L99.9,310.0 L100.5,310.6 L101.1,311.2 L101.6,311.8 L102.1,312.4 L102.6,313.0 L103.2,313.6 L103.6,314.2 L104.1,314.9 L104.6,315.6 L105.0,316.2 L105.5,316.9 L105.9,317.6 L106.3,318.3 L106.8,318.9 L107.2,319.6 L107.7,320.2 L108.2,320.9 L108.7,321.5 L109.2,322.1 L109.7,322.8 L110.2,323.4 L110.7,324.0 L111.2,324.6 L111.8,325.2 L112.3,325.8 L112.9,326.4 L113.4,327.0 L113.9,327.6 L114.5,328.2 L115.1,328.8 L115.6,329.3 L116.2,329.9 L116.8,330.5 L117.3,331.0 L117.9,331.6 L118.5,332.1 L119.1,332.6 L119.7,333.2 L120.3,333.7 L120.9,334.2 L121.5,334.7 L122.2,335.3 L122.8,335.8 L123.4,336.3 L124.0,336.8 L124.6,337.3 L125.2,337.8 L125.9,338.3 L126.5,338.8 L127.1,339.4 L127.8,339.8 L128.4,340.3 L129.0,340.8 L129.6,341.3 L130.3,341.8 L130.9,342.3 L131.5,342.8 L132.2,343.3 L132.8,343.8 L133.5,344.3 L134.1,344.8 L134.7,345.3 L135.4,345.7 L136.0,346.2 L136.7,346.7 L137.3,347.2 L138.0,347.6 L138.6,348.1 L139.3,348.5 L140.0,349.0 L140.6,349.5 L141.3,349.9 L142.0,350.4 L142.6,350.8 L143.3,351.2 L144.0,351.7 L144.7,352.1 L145.3,352.6 L146.0,353.0 L146.7,353.4 L147.4,353.8 L148.1,354.2 L148.8,354.6 L149.4,355.0 L150.1,355.4 L150.8,355.8 L151.6,356.2 L152.3,356.6 L153.0,357.0 L153.7,357.3 L154.4,357.7 L155.1,358.1 L155.8,358.4 L156.5,358.8 L157.3,359.2 L158.0,359.6 L158.7,360.0 L159.3,360.4 L160.0,360.8 L160.7,361.2 L161.4,361.6 L162.1,362.1 L162.8,362.5 L163.4,363.0 L164.1,363.4 L164.8,363.9 L165.4,364.3 L166.1,364.8 L166.8,365.2 L167.4,365.7 L168.1,366.1 L168.8,366.6 L169.5,367.0 L170.1,367.4 L170.8,367.9 L171.5,368.3 L172.2,368.7 L172.9,369.1 L173.6,369.5 L174.3,369.9 L175.0,370.3 L175.7,370.6 L176.4,371.0 L177.1,371.4 L177.8,371.7 L178.5,372.1 L179.3,372.4 L180.0,372.7 L180.7,373.1 L181.5,373.4 L182.2,373.8 L182.9,374.1 L183.7,374.4 L184.4,374.7 L185.2,375.0 L185.9,375.3 L186.6,375.6 L187.4,375.9 L188.1,376.2 L188.9,376.5 L189.6,376.8 L190.4,377.1 L191.1,377.3 L191.9,377.6 L192.7,377.9 L193.4,378.1 L194.2,378.4 L194.9,378.6 L195.7,378.9 L196.5,379.2 L197.2,379.4 L198.0,379.7 L198.7,380.0 L199.5,380.2 L200.3,380.5 L201.0,380.8 L201.8,381.1 L202.5,381.4 L203.3,381.6 L204.0,381.9 L204.8,382.2 L205.5,382.5 L206.3,382.8 L207.0,383.0 L207.8,383.3 L208.5,383.6 L209.3,383.9 L210.0,384.2 L210.8,384.5 L211.5,384.8 L212.3,385.0 L213.0,385.3 L213.8,385.6 L214.5,385.9 L215.3,386.2 L216.0,386.5 L216.8,386.7 L217.5,387.0 L218.3,387.3 L219.1,387.6 L219.8,387.9 L220.6,388.1 L221.3,388.4 L222.1,388.7 L222.8,388.9 L223.6,389.2 L224.4,389.5 L225.1,389.8 L225.9,390.1 L226.6,390.4 L227.3,390.7 L228.1,391.0 L228.8,391.3 L229.5,391.7 L230.3,392.0 L231.0,392.3 L231.7,392.7 L232.5,393.1 L233.2,393.5 L233.9,393.8 L234.6,394.2 L235.3,394.6 L236.0,395.1 L236.7,395.5 L237.3,395.9 L237.9,396.4 L238.6,396.9 L239.2,397.4 L239.8,397.9 L240.4,398.4 L240.9,399.0 L241.5,399.6 L242.1,400.2 L242.6,400.8 L243.2,401.4 L243.7,402.0 L244.2,402.6 L244.7,403.2 L245.2,403.9 L245.7,404.6 L246.2,405.3 L246.7,406.0 L247.1,406.7 L247.6,407.3 L248.1,407.9 L248.6,408.5 L249.2,409.0 L249.8,409.4 L250.5,409.6 L251.2,410.9 L251.9,410.5 L252.7,410.4 L253.5,411.0 L254.3,411.8 L255.1,411.5 L255.9,411.3 L256.6,411.6 L257.4,412.1 L258.2,412.5 L259.0,411.8 L259.8,412.6 L260.6,412.0 L261.4,413.0 L262.2,412.3 L263.0,412.1 L263.8,412.4 L264.6,412.6 L265.5,412.9 L266.3,413.0 L267.1,412.9 L267.9,412.4 L268.7,412.7 L269.5,412.6 L270.3,412.7 L271.1,412.6 L271.9,412.4 L272.7,413.6 L273.5,412.6 L274.3,412.1 L275.1,412.6 L275.9,413.1 L276.7,412.9 L277.5,412.4 L278.3,413.0 L279.1,413.4 L279.9,412.2 L280.7,412.7 L281.5,412.9 L282.3,413.1 L283.1,412.8 L283.9,413.0 L284.7,412.3 L285.5,413.2 L286.3,412.4 L287.1,412.0 L288.0,412.7 L288.8,412.7 L289.6,412.4 L290.4,412.5 L291.2,412.8 L292.0,412.5 L292.8,412.5 L293.6,413.0 L294.4,412.9 L295.2,412.4 L296.0,412.7 L296.8,412.5 L297.6,412.8 L298.4,412.9 L299.2,413.0 L300.0,412.6 L300.8,412.8 L301.6,412.4 L302.4,413.0 L303.2,412.8 L304.0,412.6 L304.8,412.8 L305.6,412.1 L306.4,412.4 L307.2,412.7 L308.0,413.1 L308.9,412.5 L309.7,412.8 L310.5,413.1 L311.3,412.5 L312.1,412.8 L312.9,412.5 L313.7,413.4 L314.5,412.7 L315.3,413.0 L316.1,412.5 L316.9,412.8 L317.7,412.5 L318.5,413.1 L319.3,412.2 L320.1,413.3 L320.9,412.7 L321.7,412.8 L322.5,412.4 L323.3,412.7 L324.1,412.6 L324.9,412.6 L325.7,412.7 L326.5,412.1 L327.3,411.6 L328.1,412.7 L328.9,412.0 L329.7,412.6 L330.5,412.0 L331.3,412.2 L332.1,413.2 L332.9,412.9 L333.8,412.4 L334.6,412.2 L335.4,412.6 L336.2,411.6 L337.0,412.8 L337.8,412.0 L338.6,411.9 L339.4,412.2 L340.2,412.0 L341.0,411.9 L341.8,412.4 L342.6,412.1 L343.4,411.8 L344.2,412.2 L345.0,412.2 L345.8,412.3" fill="none" stroke="#ff0000" stroke-width="1.35" stroke-linejoin="round" stroke-linecap="butt" />
<path d="M46.1,235.9 L46.7,235.3 L47.3,234.7 L47.9,234.2 L48.6,233.7 L49.2,233.2 L49.9,232.9 L50.6,232.6 L51.4,232.4 L52.2,232.1 L53.0,231.9 L53.8,231.7 L54.6,231.6 L55.3,231.6 L56.1,231.7 L56.9,231.9 L57.7,232.1 L58.5,232.4 L59.2,232.8 L59.9,233.1 L60.6,233.5 L61.2,234.0 L61.8,234.5 L62.3,235.1 L62.9,235.8 L63.4,236.4 L64.0,237.0 L64.5,237.6 L65.0,238.2 L65.5,238.9 L66.0,239.5 L66.5,240.1 L67.0,240.8 L67.4,241.5 L67.9,242.1 L68.3,242.8 L68.8,243.4 L69.2,244.1 L69.7,244.8 L70.1,245.5 L70.5,246.1 L70.9,246.8 L71.3,247.5 L71.7,248.2 L72.1,248.9 L72.5,249.6 L72.9,250.3 L73.3,251.0 L73.7,251.7 L74.1,252.4 L74.5,253.1 L75.0,253.8 L75.4,254.5 L75.8,255.1 L76.2,255.8 L76.6,256.5 L77.1,257.2 L77.5,257.9 L77.9,258.5 L78.3,259.2 L78.8,259.9 L79.2,260.6 L79.6,261.3 L80.0,262.0 L80.4,262.7 L80.8,263.3 L81.3,264.0 L81.7,264.7 L82.1,265.4 L82.5,266.1 L82.9,266.8 L83.3,267.5 L83.7,268.2 L84.1,268.9 L84.6,269.5 L85.0,270.2 L85.4,270.9 L85.8,271.6 L86.2,272.3 L86.6,273.0 L87.0,273.7 L87.4,274.4 L87.8,275.1 L88.2,275.8 L88.6,276.5 L89.0,277.2 L89.4,277.9 L89.8,278.6 L90.2,279.3 L90.6,280.0 L91.0,280.6 L91.4,281.3 L91.8,282.0 L92.3,282.7 L92.7,283.4 L93.1,284.1 L93.5,284.7 L94.0,285.4 L94.4,286.1 L94.8,286.8 L95.3,287.4 L95.7,288.1 L96.1,288.8 L96.6,289.5 L97.0,290.1 L97.5,290.8 L97.9,291.5 L98.3,292.2 L98.7,292.9 L99.1,293.6 L99.5,294.2 L99.9,294.9 L100.4,295.6 L100.8,296.3 L101.2,297.0 L101.6,297.7 L102.0,298.4 L102.4,299.1 L102.8,299.8 L103.2,300.5 L103.6,301.2 L104.0,301.8 L104.5,302.5 L104.9,303.2 L105.3,303.9 L105.8,304.5 L106.2,305.2 L106.7,305.9 L107.1,306.5 L107.6,307.2 L108.0,307.9 L108.5,308.5 L108.9,309.2 L109.4,309.9 L109.8,310.5 L110.3,311.2 L110.8,311.8 L111.2,312.5 L111.7,313.2 L112.1,313.8 L112.6,314.5 L113.1,315.1 L113.5,315.8 L114.0,316.4 L114.5,317.1 L115.0,317.7 L115.5,318.3 L115.9,319.0 L116.4,319.6 L116.9,320.2 L117.4,320.9 L117.9,321.5 L118.5,322.1 L119.0,322.7 L119.5,323.3 L120.0,323.9 L120.6,324.5 L121.1,325.1 L121.6,325.7 L122.2,326.3 L122.7,326.9 L123.2,327.6 L123.7,328.2 L124.3,328.8 L124.8,329.4 L125.3,330.0 L125.8,330.6 L126.3,331.2 L126.9,331.8 L127.4,332.4 L128.0,333.0 L128.5,333.6 L129.1,334.2 L129.6,334.7 L130.2,335.3 L130.8,335.8 L131.4,336.3 L132.0,336.9 L132.6,337.4 L133.2,337.9 L133.8,338.4 L134.5,339.0 L135.1,339.5 L135.7,340.0 L136.3,340.5 L136.9,341.0 L137.6,341.5 L138.2,342.0 L138.8,342.5 L139.4,343.1 L140.0,343.6 L140.6,344.1 L141.3,344.6 L141.9,345.1 L142.5,345.7 L143.1,346.2 L143.7,346.7 L144.4,347.2 L145.0,347.7 L145.6,348.2 L146.2,348.7 L146.9,349.1 L147.5,349.6 L148.2,350.1 L148.8,350.5 L149.5,351.0 L150.2,351.4 L150.8,351.8 L151.5,352.3 L152.2,352.7 L152.9,353.1 L153.6,353.5 L154.3,353.9 L155.0,354.3 L155.7,354.7 L156.4,355.1 L157.1,355.5 L157.8,355.9 L158.5,356.3 L159.2,356.7 L159.9,357.1 L160.6,357.5 L161.3,357.9 L162.0,358.3 L162.7,358.7 L163.4,359.0 L164.1,359.4 L164.8,359.8 L165.5,360.2 L166.2,360.6 L166.9,360.9 L167.6,361.3 L168.4,361.7 L169.1,362.0 L169.8,362.4 L170.5,362.8 L171.2,363.1 L171.9,363.5 L172.7,363.8 L173.4,364.2 L174.1,364.5 L174.8,364.9 L175.6,365.2 L176.3,365.6 L177.0,365.9 L177.7,366.3 L178.5,366.6 L179.2,366.9 L179.9,367.3 L180.7,367.6 L181.4,367.9 L182.1,368.2 L182.9,368.6 L183.6,368.9 L184.3,369.2 L185.1,369.5 L185.8,369.8 L186.6,370.1 L187.3,370.4 L188.0,370.7 L188.8,371.0 L189.5,371.3 L190.3,371.6 L191.0,371.9 L191.8,372.2 L192.5,372.5 L193.3,372.8 L194.0,373.1 L194.8,373.3 L195.5,373.6 L196.3,373.9 L197.0,374.2 L197.8,374.5 L198.5,374.7 L199.3,375.0 L200.1,375.3 L200.8,375.6 L201.6,375.8 L202.3,376.1 L203.1,376.4 L203.8,376.6 L204.6,376.9 L205.3,377.2 L206.1,377.4 L206.9,377.7 L207.6,378.0 L208.4,378.2 L209.1,378.5 L209.9,378.7 L210.7,379.0 L211.4,379.3 L212.2,379.5 L212.9,379.8 L213.7,380.0 L214.5,380.3 L215.2,380.6 L216.0,380.8 L216.7,381.1 L217.5,381.3 L218.3,381.6 L219.0,381.8 L219.8,382.1 L220.5,382.4 L221.3,382.6 L222.1,382.9 L222.8,383.1 L223.6,383.4 L224.3,383.6 L225.1,383.9 L225.9,384.1 L226.6,384.4 L227.4,384.6 L228.2,384.9 L228.9,385.1 L229.7,385.4 L230.4,385.6 L231.2,385.9 L232.0,386.1 L232.7,386.4 L233.5,386.6 L234.3,386.9 L235.0,387.1 L235.8,387.3 L236.6,387.6 L237.3,387.8 L238.1,388.1 L238.9,388.3 L239.6,388.6 L240.4,388.8 L241.2,389.1 L241.9,389.3 L242.7,389.6 L243.4,389.9 L244.1,390.2 L244.9,390.5 L245.6,390.8 L246.4,391.1 L247.1,391.5 L247.9,391.8 L248.6,392.2 L249.3,392.5 L250.0,392.9 L250.7,393.3 L251.4,393.7 L252.0,394.1 L252.7,394.6 L253.4,395.1 L254.0,395.6 L254.6,396.1 L255.3,396.6 L255.8,397.2 L256.4,397.7 L257.0,398.3 L257.5,398.9 L258.0,399.5 L258.4,400.2 L258.9,400.8 L259.3,401.5 L259.7,402.2 L260.2,402.9 L260.6,403.6 L261.1,404.3 L261.6,404.9 L262.1,405.9 L262.7,405.6 L263.3,406.6 L263.9,406.8 L264.6,407.8 L265.2,408.5 L265.9,408.7 L266.6,408.7 L267.3,409.2 L268.0,409.6 L268.8,409.2 L269.5,410.1 L270.3,410.1 L271.1,410.2 L271.9,410.6 L272.7,410.7 L273.6,410.7 L274.4,410.7 L275.2,410.7 L276.0,411.0 L276.8,411.5 L277.6,411.2 L278.4,411.3 L279.2,410.7 L280.0,410.6 L280.8,411.4 L281.6,411.0 L282.4,411.6 L283.2,411.2 L284.0,411.2 L284.8,411.4 L285.6,411.2 L286.4,410.6 L287.2,411.8 L288.0,411.2 L288.8,411.5 L289.6,411.2 L290.4,411.3 L291.2,411.4 L292.0,411.6 L292.8,411.5 L293.6,410.9 L294.4,411.6 L295.2,411.4 L296.0,411.4 L296.8,411.7 L297.6,410.7 L298.4,411.4 L299.2,411.3 L300.1,411.6 L300.9,411.5 L301.7,411.6 L302.5,410.9 L303.3,411.6 L304.1,410.8 L304.9,411.2 L305.7,411.1 L306.5,411.4 L307.3,411.1 L308.1,411.3 L308.9,411.3 L309.7,411.0 L310.5,411.4 L311.3,411.2 L312.1,410.5 L312.9,410.8 L313.7,410.8 L314.5,411.0 L315.3,410.9 L316.1,411.2 L316.9,410.8 L317.7,411.3 L318.5,411.2 L319.3,410.5 L320.1,411.0 L320.9,410.8 L321.7,411.2 L322.5,411.5 L323.3,410.5 L324.1,410.9 L324.9,411.7 L325.7,410.5 L326.5,411.1 L327.3,410.3 L328.1,410.9 L328.9,410.8 L329.7,410.5 L330.5,410.5 L331.4,411.2 L332.2,410.8 L333.0,411.3 L333.8,410.6 L334.6,410.7 L335.4,411.3 L336.2,411.5 L337.0,411.1 L337.8,411.0 L338.6,411.1 L339.4,410.8 L340.2,411.6 L341.0,411.2 L341.8,410.6 L342.6,411.3 L343.4,410.7 L344.2,410.8 L345.0,411.0 L345.8,410.5" fill="none" stroke="#000" stroke-width="1.35" stroke-linejoin="round" stroke-linecap="butt" />
</g>
<line x1="135.30" y1="31.90" x2="135.30" y2="137.50" stroke="#000" stroke-width="1.0" />
<path d="M135.3,143.3 L133.0,135.9 L137.6,135.9 Z" fill="#000"/>
<line x1="129.25" y1="269.20" x2="129.25" y2="440.50" stroke="#000" stroke-width="1.0" />
<path d="M129.2,446.0 L127.0,439.0 L131.4,439.0 Z" fill="#000"/>
<rect x="197.7" y="138.7" width="148.10000000000002" height="86.4" fill="#fff"/>
<rect x="198.6" y="239.4" width="147.20000000000002" height="126.4" fill="#fff"/>
<path d="M208.3,200.0 L209.2,200.0 L210.0,200.0 L210.8,200.0 L211.6,200.0 L212.3,199.9 L213.0,199.4 L213.2,198.7 L213.4,197.9 L213.4,197.0 L213.5,196.2 L213.6,195.4 L213.7,194.6 L213.7,193.8 L213.9,193.0 L214.1,192.2 L214.3,191.5 L214.6,190.7 L215.0,190.0 L215.4,189.3 L215.9,188.7 L216.4,188.0 L216.8,187.3 L217.3,186.7 L217.8,186.1 L218.3,185.4 L218.8,184.8 L219.3,184.2 L219.9,183.6 L220.4,183.0 L220.9,182.4 L221.5,181.8 L222.0,181.2 L222.5,180.5 L223.1,179.9 L223.6,179.3 L224.1,178.7 L224.6,178.1 L225.1,177.4 L225.6,176.8 L226.2,176.2 L226.7,175.6 L227.3,175.0 L227.8,174.5 L228.4,173.9 L229.0,173.4 L229.6,172.9 L230.3,172.4 L230.9,171.8 L231.5,171.3 L232.1,170.8 L232.7,170.3 L233.3,169.7 L233.9,169.2 L234.5,168.6 L235.1,168.0 L235.7,167.5 L236.2,166.9 L236.8,166.4 L237.4,165.8 L238.0,165.3 L238.6,164.8 L239.3,164.3 L239.9,163.8 L240.5,163.3 L241.2,162.8 L241.8,162.3 L242.5,161.9 L243.2,161.4 L243.8,160.9 L244.5,160.5 L245.2,160.1 L245.9,159.6 L246.6,159.2 L247.3,158.9 L248.0,158.5 L248.7,158.2 L249.4,157.8 L250.2,157.5 L250.9,157.2 L251.7,156.9 L252.4,156.6 L253.2,156.3 L254.0,156.0 L254.7,155.8 L255.5,155.5 L256.2,155.3 L257.0,155.0 L257.8,154.8 L258.6,154.6 L259.3,154.4 L260.1,154.2 L260.9,154.0 L261.7,153.8 L262.5,153.6 L263.3,153.4 L264.0,153.2 L264.8,153.0 L265.6,152.9 L266.4,152.7 L267.2,152.5 L268.0,152.4 L268.8,152.2 L269.6,152.1 L270.4,151.9 L271.2,151.8 L272.0,151.6 L272.7,151.5 L273.5,151.4 L274.3,151.2 L275.1,151.1 L275.9,151.0 L276.7,150.9 L277.5,150.8 L278.3,150.6 L279.1,150.5 L279.9,150.4 L280.7,150.3 L281.5,150.2 L282.3,150.1 L283.1,150.0 L283.9,149.9 L284.7,149.8 L285.5,149.7 L286.3,149.6 L287.1,149.5 L287.9,149.4 L288.7,149.3 L289.5,149.2 L290.3,149.1 L291.1,149.0 L291.9,148.9 L292.7,148.8 L293.5,148.7 L294.3,148.7 L295.1,148.6 L295.9,148.5 L296.7,148.4 L297.5,148.4 L298.3,148.3 L299.1,148.2 L299.9,148.1 L300.7,148.1 L301.5,148.0 L302.3,147.9 L303.1,147.8 L304.0,147.8 L304.8,147.7 L305.6,147.6 L306.4,147.6 L307.2,147.5 L308.0,147.4 L308.8,147.4 L309.6,147.3 L310.4,147.3 L311.2,147.2 L312.0,147.1 L312.8,147.1 L313.6,147.0 L314.4,147.0 L315.2,146.9 L316.0,146.9 L316.8,146.8 L317.6,146.7 L318.4,146.7 L319.2,146.6 L320.0,146.6 L320.8,146.6 L321.6,146.5 L322.4,146.5 L323.3,146.4 L324.1,146.4 L324.9,146.3 L325.7,146.3 L326.5,146.2 L327.3,146.2 L328.1,146.1 L328.9,146.1 L329.7,146.1 L330.5,146.0 L331.3,146.0 L332.1,145.9 L332.9,145.9 L333.7,145.9 L334.5,145.8 L335.3,145.8 L336.1,145.8 L336.9,145.7 L337.7,145.7 L338.5,145.7 L339.4,145.6 L340.2,145.6 L341.0,145.6 L341.8,145.5 L342.6,145.5 L343.4,145.5 L344.2,145.4 L345.0,145.4 L345.8,145.4" fill="none" stroke="#000" stroke-width="1.35" stroke-linejoin="round" stroke-linecap="butt" />
<path d="M208.0,221.0 L208.5,221.6 L209.0,222.2 L209.6,222.9 L210.1,223.6 L210.8,223.4 L211.5,222.9 L211.9,222.3 L212.2,221.5 L212.4,220.7 L212.6,219.9 L212.7,219.1 L212.9,218.3 L213.0,217.5 L213.1,216.7 L213.2,215.9 L213.3,215.1 L213.4,214.3 L213.5,213.5 L213.7,212.7 L213.9,211.9 L214.2,211.2 L214.4,210.4 L214.8,209.7 L215.2,209.0 L215.6,208.3 L216.1,207.6 L216.5,207.0 L217.0,206.3 L217.5,205.7 L218.0,205.0 L218.5,204.4 L219.1,203.8 L219.6,203.2 L220.2,202.6 L220.7,202.0 L221.3,201.5 L221.9,200.9 L222.5,200.4 L223.1,199.9 L223.7,199.3 L224.4,198.8 L225.0,198.3 L225.6,197.8 L226.3,197.4 L227.0,196.9 L227.6,196.5 L228.3,196.1 L229.1,195.7 L229.8,195.3 L230.5,194.9 L231.2,194.5 L231.9,194.1 L232.5,193.6 L233.2,193.2 L233.8,192.7 L234.4,192.2 L235.0,191.6 L235.7,191.1 L236.3,190.6 L236.9,190.0 L237.5,189.5 L238.1,189.0 L238.7,188.4 L239.3,187.9 L239.9,187.3 L240.5,186.8 L241.1,186.2 L241.7,185.7 L242.2,185.1 L242.8,184.6 L243.4,184.0 L244.0,183.5 L244.6,182.9 L245.2,182.4 L245.8,181.8 L246.3,181.2 L246.9,180.7 L247.5,180.1 L248.1,179.6 L248.7,179.1 L249.3,178.5 L249.9,178.0 L250.5,177.4 L251.1,176.9 L251.7,176.3 L252.3,175.8 L252.9,175.3 L253.5,174.7 L254.1,174.2 L254.7,173.7 L255.3,173.1 L256.0,172.6 L256.6,172.1 L257.2,171.6 L257.8,171.0 L258.4,170.5 L259.0,170.0 L259.7,169.5 L260.3,169.0 L260.9,168.4 L261.5,167.9 L262.2,167.5 L262.8,167.0 L263.5,166.5 L264.1,166.1 L264.8,165.6 L265.5,165.2 L266.2,164.8 L266.9,164.3 L267.6,163.9 L268.3,163.5 L269.0,163.1 L269.7,162.7 L270.5,162.4 L271.2,162.1 L271.9,161.8 L272.7,161.5 L273.4,161.2 L274.2,161.0 L275.0,160.8 L275.7,160.6 L276.5,160.4 L277.3,160.2 L278.1,160.0 L278.9,159.8 L279.7,159.6 L280.5,159.4 L281.3,159.2 L282.0,159.0 L282.8,158.8 L283.6,158.6 L284.4,158.3 L285.1,158.1 L285.9,157.9 L286.7,157.7 L287.5,157.5 L288.3,157.2 L289.0,157.0 L289.8,156.8 L290.6,156.6 L291.4,156.4 L292.2,156.2 L292.9,156.0 L293.7,155.8 L294.5,155.6 L295.3,155.5 L296.1,155.3 L296.9,155.1 L297.7,154.9 L298.5,154.8 L299.2,154.6 L300.0,154.5 L300.8,154.3 L301.6,154.2 L302.4,154.0 L303.2,153.9 L304.0,153.8 L304.8,153.6 L305.6,153.5 L306.4,153.4 L307.2,153.3 L308.0,153.2 L308.8,153.1 L309.6,153.0 L310.4,152.9 L311.2,152.8 L312.0,152.7 L312.8,152.6 L313.6,152.5 L314.4,152.4 L315.2,152.4 L316.0,152.3 L316.8,152.2 L317.6,152.1 L318.4,152.1 L319.2,152.0 L320.0,151.9 L320.8,151.9 L321.7,151.8 L322.5,151.7 L323.3,151.7 L324.1,151.6 L324.9,151.5 L325.7,151.5 L326.5,151.4 L327.3,151.3 L328.1,151.3 L328.9,151.2 L329.7,151.1 L330.5,151.1 L331.3,151.0 L332.1,150.9 L332.9,150.9 L333.7,150.8 L334.5,150.8 L335.3,150.7 L336.1,150.7 L336.9,150.6 L337.7,150.5 L338.6,150.5 L339.4,150.4 L340.2,150.4 L341.0,150.3 L341.8,150.3 L342.6,150.2 L343.4,150.2 L344.2,150.1 L345.0,150.1 L345.8,150.0" fill="none" stroke="#ff0000" stroke-width="1.35" stroke-linejoin="round" stroke-linecap="butt" />
<path d="M208.1,221.6 L209.8,221.9 L211.3,222.3 L210.4,223.2 L209.2,222.6" fill="none" stroke="#ff0000" stroke-width="1.2" stroke-linejoin="round" stroke-linecap="butt" />
<path d="M205.4,288.0 L205.9,287.4 L206.4,286.7 L206.9,286.1 L207.4,285.5 L207.9,284.8 L208.4,284.2 L208.9,283.6 L209.4,282.9 L209.8,282.3 L210.3,281.6 L210.8,281.0 L211.2,280.3 L211.7,279.7 L212.2,279.0 L212.7,278.4 L213.2,277.7 L213.6,277.0 L214.1,276.4 L214.5,275.7 L215.0,275.0 L215.4,274.3 L215.7,273.6 L216.1,272.9 L216.4,272.2 L216.7,271.4 L216.9,270.7 L217.2,269.9 L217.5,269.1 L217.7,268.4 L218.0,267.6 L218.3,266.8 L218.5,266.1 L218.8,265.3 L219.2,264.6 L219.5,263.8 L219.8,263.1 L220.1,262.3 L220.5,261.6 L220.8,260.8 L221.2,260.1 L221.6,259.4 L222.0,258.8 L222.5,258.2 L223.0,257.7 L223.7,257.1 L224.3,256.6 L225.0,256.1 L225.6,255.6 L226.3,255.2 L227.0,254.7 L227.6,254.3 L228.3,253.8 L229.0,253.4 L229.7,253.0 L230.4,252.6 L231.1,252.2 L231.8,251.8 L232.5,251.5 L233.2,251.1 L233.9,250.6 L234.6,250.2 L235.3,249.8 L236.0,249.3 L236.7,248.9 L237.4,248.5 L238.2,248.2 L238.9,247.9 L239.6,247.6 L240.4,247.4 L241.1,247.2 L241.9,247.1 L242.7,246.9 L243.5,246.8 L244.3,246.7 L245.1,246.6 L245.9,246.5 L246.7,246.4 L247.5,246.3 L248.3,246.3 L249.2,246.2 L250.0,246.1 L250.8,246.0 L251.6,246.0 L252.4,245.9 L253.2,245.9 L254.0,245.9 L254.8,245.9 L255.6,245.9 L256.4,246.0 L257.2,246.1 L258.0,246.2 L258.8,246.3 L259.6,246.4 L260.4,246.5 L261.2,246.6 L262.0,246.7 L262.7,246.9 L263.5,247.1 L264.3,247.3 L265.1,247.5 L265.9,247.8 L266.6,248.0 L267.4,248.2 L268.2,248.5 L268.9,248.8 L269.7,249.0 L270.5,249.3 L271.2,249.5 L272.0,249.8 L272.7,250.1 L273.5,250.4 L274.2,250.6 L275.0,250.9 L275.7,251.2 L276.5,251.5 L277.3,251.8 L278.0,252.1 L278.8,252.4 L279.5,252.7 L280.3,253.0 L281.0,253.2 L281.8,253.5 L282.5,253.8 L283.3,254.1 L284.0,254.4 L284.8,254.7 L285.5,255.0 L286.3,255.3 L287.0,255.6 L287.7,256.0 L288.5,256.3 L289.2,256.6 L289.9,257.0 L290.7,257.3 L291.4,257.7 L292.1,258.0 L292.8,258.4 L293.5,258.8 L294.2,259.1 L295.0,259.5 L295.7,259.9 L296.4,260.3 L297.1,260.7 L297.8,261.1 L298.5,261.5 L299.1,262.0 L299.8,262.4 L300.5,262.8 L301.2,263.2 L301.8,263.7 L302.5,264.1 L303.2,264.6 L303.8,265.1 L304.5,265.5 L305.1,266.0 L305.8,266.5 L306.4,267.0 L307.1,267.5 L307.7,268.0 L308.3,268.5 L309.0,269.0 L309.6,269.5 L310.2,270.0 L310.8,270.5 L311.4,271.0 L312.0,271.6 L312.6,272.1 L313.2,272.6 L313.8,273.2 L314.4,273.7 L315.0,274.3 L315.5,274.9 L316.1,275.4 L316.7,276.0 L317.3,276.6 L317.8,277.1 L318.4,277.7 L319.0,278.3 L319.6,278.9 L320.1,279.4 L320.7,280.0 L321.3,280.5 L321.9,281.1 L322.5,281.6 L323.0,282.2 L323.6,282.8 L324.2,283.3 L324.8,283.9 L325.4,284.4 L326.0,285.0 L326.5,285.6 L327.1,286.1 L327.7,286.7 L328.3,287.2 L328.9,287.8 L329.5,288.3 L330.1,288.9 L330.7,289.4 L331.3,289.9 L331.9,290.4 L332.6,290.9 L333.2,291.4 L333.9,291.8 L334.5,292.3 L335.2,292.7 L335.8,293.2 L336.5,293.6 L337.2,294.0 L337.9,294.5 L338.5,294.9 L339.2,295.3 L339.9,295.7 L340.6,296.1 L341.3,296.5 L342.1,296.9 L342.8,297.3 L343.5,297.6 L344.2,298.0 L345.0,298.4 L345.7,298.7" fill="none" stroke="#000" stroke-width="1.35" stroke-linejoin="round" stroke-linecap="butt" />
<path d="M205.0,252.3 L205.8,252.5 L206.6,252.8 L207.3,253.1 L208.1,253.4 L208.8,253.7 L209.6,254.1 L210.3,254.5 L211.0,254.8 L211.6,255.2 L212.3,255.7 L212.9,256.1 L213.5,256.7 L214.1,257.2 L214.7,257.8 L215.3,258.3 L215.9,258.9 L216.5,259.5 L217.0,260.1 L217.6,260.7 L218.1,261.3 L218.7,261.8 L219.2,262.4 L219.8,263.0 L220.3,263.6 L220.9,264.2 L221.4,264.8 L221.9,265.5 L222.4,266.1 L222.9,266.7 L223.4,267.4 L223.9,268.0 L224.4,268.6 L224.8,269.3 L225.3,270.0 L225.7,270.6 L226.1,271.3 L226.5,272.0 L226.9,272.7 L227.3,273.4 L227.7,274.1 L228.1,274.8 L228.5,275.5 L228.9,276.2 L229.3,276.9 L229.7,277.6 L230.1,278.3 L230.6,279.0 L231.0,279.7 L231.4,280.4 L231.8,281.1 L232.2,281.8 L232.6,282.5 L233.0,283.2 L233.5,283.9 L233.9,284.6 L234.3,285.3 L234.7,285.9 L235.1,286.6 L235.5,287.3 L236.0,288.0 L236.4,288.7 L236.8,289.4 L237.3,290.0 L237.7,290.7 L238.1,291.4 L238.5,292.1 L239.0,292.8 L239.4,293.5 L239.8,294.1 L240.3,294.8 L240.7,295.5 L241.2,296.2 L241.6,296.8 L242.1,297.5 L242.6,298.1 L243.0,298.8 L243.5,299.4 L244.0,300.1 L244.5,300.7 L245.0,301.3 L245.6,301.9 L246.1,302.5 L246.6,303.1 L247.2,303.7 L247.8,304.3 L248.3,304.8 L248.9,305.4 L249.6,305.9 L250.2,306.4 L250.8,306.9 L251.5,307.4 L252.1,307.8 L252.8,308.3 L253.4,308.8 L254.1,309.3 L254.7,309.8 L255.3,310.3 L256.0,310.8 L256.6,311.3 L257.3,311.8 L257.9,312.2 L258.5,312.7 L259.2,313.2 L259.8,313.7 L260.4,314.3 L261.0,314.8 L261.7,315.3 L262.3,315.8 L262.9,316.3 L263.5,316.9 L264.1,317.4 L264.7,318.0 L265.3,318.5 L265.9,319.0 L266.5,319.6 L267.1,320.1 L267.6,320.7 L268.2,321.2 L268.8,321.8 L269.4,322.3 L270.0,322.9 L270.6,323.5 L271.2,324.0 L271.7,324.6 L272.3,325.1 L272.9,325.7 L273.4,326.3 L274.0,326.9 L274.6,327.4 L275.1,328.0 L275.7,328.6 L276.3,329.1 L276.9,329.7 L277.5,330.2 L278.0,330.8 L278.6,331.4 L279.2,331.9 L279.8,332.5 L280.4,333.0 L281.0,333.6 L281.6,334.1 L282.2,334.7 L282.8,335.2 L283.4,335.8 L284.0,336.3 L284.6,336.9 L285.2,337.4 L285.8,337.9 L286.4,338.4 L287.0,338.9 L287.7,339.4 L288.3,339.9 L289.0,340.3 L289.6,340.8 L290.3,341.3 L290.9,341.7 L291.6,342.2 L292.3,342.6 L293.0,343.1 L293.7,343.5 L294.4,343.9 L295.1,344.3 L295.8,344.7 L296.5,345.1 L297.2,345.5 L297.9,345.9 L298.6,346.2 L299.3,346.5 L300.1,346.9 L300.8,347.2 L301.6,347.5 L302.3,347.7 L303.1,348.0 L303.8,348.3 L304.6,348.6 L305.4,348.8 L306.1,349.1 L306.9,349.3 L307.7,349.5 L308.5,349.8 L309.2,350.0 L310.0,350.2 L310.8,350.5 L311.5,350.7 L312.3,350.9 L313.1,351.2 L313.9,351.4 L314.6,351.6 L315.4,351.8 L316.2,352.1 L317.0,352.3 L317.8,352.5 L318.5,352.7 L319.3,352.9 L320.1,353.1 L320.9,353.2 L321.7,353.4 L322.5,353.5 L323.3,353.7 L324.0,353.8 L324.8,353.9 L325.6,354.1 L326.4,354.2 L327.2,354.3 L328.0,354.4 L328.8,354.5 L329.6,354.6 L330.4,354.7 L331.2,354.8 L332.0,354.9 L332.8,354.9 L333.6,355.0 L334.4,355.1 L335.2,355.2 L336.0,355.2 L336.9,355.3 L337.7,355.4 L338.5,355.4 L339.3,355.5 L340.1,355.6 L340.9,355.6 L341.7,355.7 L342.5,355.7 L343.3,355.8 L344.1,355.8 L344.9,355.9 L345.7,355.9" fill="none" stroke="#ff0000" stroke-width="1.35" stroke-linejoin="round" stroke-linecap="butt" />
<line x1="248.35" y1="241.60" x2="248.35" y2="326.10" stroke="#0000ff" stroke-width="1.2" stroke-dasharray="4.1,3.25"/>
<line x1="34.60" y1="0.00" x2="34.60" y2="459.20" stroke="#000" stroke-width="1.15" />
<line x1="345.80" y1="0.00" x2="345.80" y2="459.20" stroke="#000" stroke-width="1.15" />
<line x1="34.60" y1="226.10" x2="345.80" y2="226.10" stroke="#000" stroke-width="1.15" />
<line x1="34.60" y1="458.70" x2="345.80" y2="458.70" stroke="#000" stroke-width="1.15" />
<rect x="197.7" y="138.7" width="148.10000000000002" height="86.4" fill="none" stroke="#000" stroke-width="1"/>
<rect x="198.6" y="239.4" width="147.20000000000002" height="126.4" fill="none" stroke="#000" stroke-width="1"/>
<line x1="54.05" y1="-2.00" x2="54.05" y2="1.10" stroke="#000" stroke-width="1.15" />
<line x1="54.05" y1="458.70" x2="54.05" y2="455.60" stroke="#000" stroke-width="1.15" />
<line x1="54.05" y1="226.10" x2="54.05" y2="225.10" stroke="#000" stroke-width="1.15" opacity="0.45"/>
<line x1="73.50" y1="-2.00" x2="73.50" y2="3.50" stroke="#000" stroke-width="1.15" />
<line x1="73.50" y1="458.70" x2="73.50" y2="453.20" stroke="#000" stroke-width="1.15" />
<line x1="73.50" y1="226.10" x2="73.50" y2="224.50" stroke="#000" stroke-width="1.15" opacity="0.45"/>
<line x1="92.95" y1="-2.00" x2="92.95" y2="1.10" stroke="#000" stroke-width="1.15" />
<line x1="92.95" y1="458.70" x2="92.95" y2="455.60" stroke="#000" stroke-width="1.15" />
<line x1="92.95" y1="226.10" x2="92.95" y2="225.10" stroke="#000" stroke-width="1.15" opacity="0.45"/>
<line x1="112.40" y1="-2.00" x2="112.40" y2="3.50" stroke="#000" stroke-width="1.15" />
<line x1="112.40" y1="458.70" x2="112.40" y2="453.20" stroke="#000" stroke-width="1.15" />
<line x1="112.40" y1="226.10" x2="112.40" y2="224.50" stroke="#000" stroke-width="1.15" opacity="0.45"/>
<line x1="131.85" y1="-2.00" x2="131.85" y2="1.10" stroke="#000" stroke-width="1.15" />
<line x1="131.85" y1="458.70" x2="131.85" y2="455.60" stroke="#000" stroke-width="1.15" />
<line x1="131.85" y1="226.10" x2="131.85" y2="225.10" stroke="#000" stroke-width="1.15" opacity="0.45"/>
<line x1="151.30" y1="-2.00" x2="151.30" y2="3.50" stroke="#000" stroke-width="1.15" />
<line x1="151.30" y1="458.70" x2="151.30" y2="453.20" stroke="#000" stroke-width="1.15" />
<line x1="151.30" y1="226.10" x2="151.30" y2="224.50" stroke="#000" stroke-width="1.15" opacity="0.45"/>
<line x1="170.75" y1="-2.00" x2="170.75" y2="1.10" stroke="#000" stroke-width="1.15" />
<line x1="170.75" y1="458.70" x2="170.75" y2="455.60" stroke="#000" stroke-width="1.15" />
<line x1="170.75" y1="226.10" x2="170.75" y2="225.10" stroke="#000" stroke-width="1.15" opacity="0.45"/>
<line x1="190.20" y1="-2.00" x2="190.20" y2="3.50" stroke="#000" stroke-width="1.15" />
<line x1="190.20" y1="458.70" x2="190.20" y2="453.20" stroke="#000" stroke-width="1.15" />
<line x1="190.20" y1="226.10" x2="190.20" y2="224.50" stroke="#000" stroke-width="1.15" opacity="0.45"/>
<line x1="209.65" y1="-2.00" x2="209.65" y2="1.10" stroke="#000" stroke-width="1.15" />
<line x1="209.65" y1="458.70" x2="209.65" y2="455.60" stroke="#000" stroke-width="1.15" />
<line x1="209.65" y1="226.10" x2="209.65" y2="225.10" stroke="#000" stroke-width="1.15" opacity="0.45"/>
<line x1="229.10" y1="-2.00" x2="229.10" y2="3.50" stroke="#000" stroke-width="1.15" />
<line x1="229.10" y1="458.70" x2="229.10" y2="453.20" stroke="#000" stroke-width="1.15" />
<line x1="229.10" y1="226.10" x2="229.10" y2="224.50" stroke="#000" stroke-width="1.15" opacity="0.45"/>
<line x1="248.55" y1="-2.00" x2="248.55" y2="1.10" stroke="#000" stroke-width="1.15" />
<line x1="248.55" y1="458.70" x2="248.55" y2="455.60" stroke="#000" stroke-width="1.15" />
<line x1="248.55" y1="226.10" x2="248.55" y2="225.10" stroke="#000" stroke-width="1.15" opacity="0.45"/>
<line x1="268.00" y1="-2.00" x2="268.00" y2="3.50" stroke="#000" stroke-width="1.15" />
<line x1="268.00" y1="458.70" x2="268.00" y2="453.20" stroke="#000" stroke-width="1.15" />
<line x1="268.00" y1="226.10" x2="268.00" y2="224.50" stroke="#000" stroke-width="1.15" opacity="0.45"/>
<line x1="287.45" y1="-2.00" x2="287.45" y2="1.10" stroke="#000" stroke-width="1.15" />
<line x1="287.45" y1="458.70" x2="287.45" y2="455.60" stroke="#000" stroke-width="1.15" />
<line x1="287.45" y1="226.10" x2="287.45" y2="225.10" stroke="#000" stroke-width="1.15" opacity="0.45"/>
<line x1="306.90" y1="-2.00" x2="306.90" y2="3.50" stroke="#000" stroke-width="1.15" />
<line x1="306.90" y1="458.70" x2="306.90" y2="453.20" stroke="#000" stroke-width="1.15" />
<line x1="306.90" y1="226.10" x2="306.90" y2="224.50" stroke="#000" stroke-width="1.15" opacity="0.45"/>
<line x1="326.35" y1="-2.00" x2="326.35" y2="1.10" stroke="#000" stroke-width="1.15" />
<line x1="326.35" y1="458.70" x2="326.35" y2="455.60" stroke="#000" stroke-width="1.15" />
<line x1="326.35" y1="226.10" x2="326.35" y2="225.10" stroke="#000" stroke-width="1.15" opacity="0.45"/>
<line x1="34.60" y1="216.15" x2="37.70" y2="216.15" stroke="#000" stroke-width="1.15" />
<line x1="34.60" y1="207.41" x2="37.70" y2="207.41" stroke="#000" stroke-width="1.15" />
<line x1="34.60" y1="201.21" x2="37.70" y2="201.21" stroke="#000" stroke-width="1.15" />
<line x1="34.60" y1="196.40" x2="37.70" y2="196.40" stroke="#000" stroke-width="1.15" />
<line x1="34.60" y1="192.46" x2="37.70" y2="192.46" stroke="#000" stroke-width="1.15" />
<line x1="34.60" y1="189.14" x2="37.70" y2="189.14" stroke="#000" stroke-width="1.15" />
<line x1="34.60" y1="186.26" x2="37.70" y2="186.26" stroke="#000" stroke-width="1.15" />
<line x1="34.60" y1="183.72" x2="37.70" y2="183.72" stroke="#000" stroke-width="1.15" />
<line x1="34.60" y1="181.45" x2="40.10" y2="181.45" stroke="#000" stroke-width="1.15" />
<line x1="34.60" y1="166.50" x2="37.70" y2="166.50" stroke="#000" stroke-width="1.15" />
<line x1="34.60" y1="157.76" x2="37.70" y2="157.76" stroke="#000" stroke-width="1.15" />
<line x1="34.60" y1="151.56" x2="37.70" y2="151.56" stroke="#000" stroke-width="1.15" />
<line x1="34.60" y1="146.75" x2="37.70" y2="146.75" stroke="#000" stroke-width="1.15" />
<line x1="34.60" y1="142.81" x2="37.70" y2="142.81" stroke="#000" stroke-width="1.15" />
<line x1="34.60" y1="139.49" x2="37.70" y2="139.49" stroke="#000" stroke-width="1.15" />
<line x1="34.60" y1="136.61" x2="37.70" y2="136.61" stroke="#000" stroke-width="1.15" />
<line x1="34.60" y1="134.07" x2="37.70" y2="134.07" stroke="#000" stroke-width="1.15" />
<line x1="34.60" y1="131.80" x2="40.10" y2="131.80" stroke="#000" stroke-width="1.15" />
<line x1="34.60" y1="116.85" x2="37.70" y2="116.85" stroke="#000" stroke-width="1.15" />
<line x1="34.60" y1="108.11" x2="37.70" y2="108.11" stroke="#000" stroke-width="1.15" />
<line x1="34.60" y1="101.91" x2="37.70" y2="101.91" stroke="#000" stroke-width="1.15" />
<line x1="34.60" y1="97.10" x2="37.70" y2="97.10" stroke="#000" stroke-width="1.15" />
<line x1="34.60" y1="93.16" x2="37.70" y2="93.16" stroke="#000" stroke-width="1.15" />
<line x1="34.60" y1="89.84" x2="37.70" y2="89.84" stroke="#000" stroke-width="1.15" />
<line x1="34.60" y1="86.96" x2="37.70" y2="86.96" stroke="#000" stroke-width="1.15" />
<line x1="34.60" y1="84.42" x2="37.70" y2="84.42" stroke="#000" stroke-width="1.15" />
<line x1="34.60" y1="82.15" x2="40.10" y2="82.15" stroke="#000" stroke-width="1.15" />
<line x1="34.60" y1="67.20" x2="37.70" y2="67.20" stroke="#000" stroke-width="1.15" />
<line x1="34.60" y1="58.46" x2="37.70" y2="58.46" stroke="#000" stroke-width="1.15" />
<line x1="34.60" y1="52.26" x2="37.70" y2="52.26" stroke="#000" stroke-width="1.15" />
<line x1="34.60" y1="47.45" x2="37.70" y2="47.45" stroke="#000" stroke-width="1.15" />
<line x1="34.60" y1="43.51" x2="37.70" y2="43.51" stroke="#000" stroke-width="1.15" />
<line x1="34.60" y1="40.19" x2="37.70" y2="40.19" stroke="#000" stroke-width="1.15" />
<line x1="34.60" y1="37.31" x2="37.70" y2="37.31" stroke="#000" stroke-width="1.15" />
<line x1="34.60" y1="34.77" x2="37.70" y2="34.77" stroke="#000" stroke-width="1.15" />
<line x1="34.60" y1="32.50" x2="40.10" y2="32.50" stroke="#000" stroke-width="1.15" />
<line x1="34.60" y1="17.55" x2="37.70" y2="17.55" stroke="#000" stroke-width="1.15" />
<line x1="34.60" y1="8.81" x2="37.70" y2="8.81" stroke="#000" stroke-width="1.15" />
<line x1="34.60" y1="2.61" x2="37.70" y2="2.61" stroke="#000" stroke-width="1.15" />
<line x1="34.60" y1="452.32" x2="37.70" y2="452.32" stroke="#000" stroke-width="1.15" />
<line x1="34.60" y1="446.84" x2="37.70" y2="446.84" stroke="#000" stroke-width="1.15" />
<line x1="34.60" y1="442.36" x2="37.70" y2="442.36" stroke="#000" stroke-width="1.15" />
<line x1="34.60" y1="438.57" x2="37.70" y2="438.57" stroke="#000" stroke-width="1.15" />
<line x1="34.60" y1="435.29" x2="37.70" y2="435.29" stroke="#000" stroke-width="1.15" />
<line x1="34.60" y1="432.39" x2="37.70" y2="432.39" stroke="#000" stroke-width="1.15" />
<line x1="34.60" y1="429.80" x2="40.10" y2="429.80" stroke="#000" stroke-width="1.15" />
<line x1="34.60" y1="412.76" x2="37.70" y2="412.76" stroke="#000" stroke-width="1.15" />
<line x1="34.60" y1="402.79" x2="37.70" y2="402.79" stroke="#000" stroke-width="1.15" />
<line x1="34.60" y1="395.72" x2="37.70" y2="395.72" stroke="#000" stroke-width="1.15" />
<line x1="34.60" y1="390.24" x2="37.70" y2="390.24" stroke="#000" stroke-width="1.15" />
<line x1="34.60" y1="385.76" x2="37.70" y2="385.76" stroke="#000" stroke-width="1.15" />
<line x1="34.60" y1="381.97" x2="37.70" y2="381.97" stroke="#000" stroke-width="1.15" />
<line x1="34.60" y1="378.69" x2="37.70" y2="378.69" stroke="#000" stroke-width="1.15" />
<line x1="34.60" y1="375.79" x2="37.70" y2="375.79" stroke="#000" stroke-width="1.15" />
<line x1="34.60" y1="373.20" x2="40.10" y2="373.20" stroke="#000" stroke-width="1.15" />
<line x1="34.60" y1="356.16" x2="37.70" y2="356.16" stroke="#000" stroke-width="1.15" />
<line x1="34.60" y1="346.19" x2="37.70" y2="346.19" stroke="#000" stroke-width="1.15" />
<line x1="34.60" y1="339.12" x2="37.70" y2="339.12" stroke="#000" stroke-width="1.15" />
<line x1="34.60" y1="333.64" x2="37.70" y2="333.64" stroke="#000" stroke-width="1.15" />
<line x1="34.60" y1="329.16" x2="37.70" y2="329.16" stroke="#000" stroke-width="1.15" />
<line x1="34.60" y1="325.37" x2="37.70" y2="325.37" stroke="#000" stroke-width="1.15" />
<line x1="34.60" y1="322.09" x2="37.70" y2="322.09" stroke="#000" stroke-width="1.15" />
<line x1="34.60" y1="319.19" x2="37.70" y2="319.19" stroke="#000" stroke-width="1.15" />
<line x1="34.60" y1="316.60" x2="40.10" y2="316.60" stroke="#000" stroke-width="1.15" />
<line x1="34.60" y1="299.56" x2="37.70" y2="299.56" stroke="#000" stroke-width="1.15" />
<line x1="34.60" y1="289.59" x2="37.70" y2="289.59" stroke="#000" stroke-width="1.15" />
<line x1="34.60" y1="282.52" x2="37.70" y2="282.52" stroke="#000" stroke-width="1.15" />
<line x1="34.60" y1="277.04" x2="37.70" y2="277.04" stroke="#000" stroke-width="1.15" />
<line x1="34.60" y1="272.56" x2="37.70" y2="272.56" stroke="#000" stroke-width="1.15" />
<line x1="34.60" y1="268.77" x2="37.70" y2="268.77" stroke="#000" stroke-width="1.15" />
<line x1="34.60" y1="265.49" x2="37.70" y2="265.49" stroke="#000" stroke-width="1.15" />
<line x1="34.60" y1="262.59" x2="37.70" y2="262.59" stroke="#000" stroke-width="1.15" />
<line x1="34.60" y1="260.00" x2="40.10" y2="260.00" stroke="#000" stroke-width="1.15" />
<line x1="34.60" y1="242.96" x2="37.70" y2="242.96" stroke="#000" stroke-width="1.15" />
<line x1="34.60" y1="232.99" x2="37.70" y2="232.99" stroke="#000" stroke-width="1.15" />
<line x1="197.70" y1="218.80" x2="202.90" y2="218.80" stroke="#000" stroke-width="1.15" />
<line x1="197.70" y1="192.10" x2="202.90" y2="192.10" stroke="#000" stroke-width="1.15" />
<line x1="197.70" y1="165.40" x2="202.90" y2="165.40" stroke="#000" stroke-width="1.15" />
<line x1="197.70" y1="198.80" x2="200.40" y2="198.80" stroke="#000" stroke-width="1.15" />
<line x1="197.70" y1="172.10" x2="200.40" y2="172.10" stroke="#000" stroke-width="1.15" />
<line x1="197.70" y1="145.40" x2="200.40" y2="145.40" stroke="#000" stroke-width="1.15" />
<line x1="296.60" y1="138.70" x2="296.60" y2="143.70" stroke="#000" stroke-width="1.15" />
<line x1="247.30" y1="138.70" x2="247.30" y2="141.40" stroke="#000" stroke-width="1.15" />
<line x1="198.60" y1="247.40" x2="203.60" y2="247.40" stroke="#000" stroke-width="1.15" />
<line x1="198.60" y1="267.85" x2="201.30" y2="267.85" stroke="#000" stroke-width="1.15" />
<line x1="198.60" y1="288.30" x2="203.60" y2="288.30" stroke="#000" stroke-width="1.15" />
<line x1="198.60" y1="308.75" x2="201.30" y2="308.75" stroke="#000" stroke-width="1.15" />
<line x1="198.60" y1="329.20" x2="203.60" y2="329.20" stroke="#000" stroke-width="1.15" />
<line x1="198.60" y1="349.65" x2="201.30" y2="349.65" stroke="#000" stroke-width="1.15" />
<line x1="221.05" y1="239.40" x2="221.05" y2="242.10" stroke="#000" stroke-width="1.15" />
<line x1="221.05" y1="365.80" x2="221.05" y2="364.60" stroke="#000" stroke-width="1.15" opacity="0.4"/>
<line x1="257.50" y1="239.40" x2="257.50" y2="244.40" stroke="#000" stroke-width="1.15" />
<line x1="257.50" y1="365.80" x2="257.50" y2="364.60" stroke="#000" stroke-width="1.15" opacity="0.4"/>
<line x1="293.95" y1="239.40" x2="293.95" y2="242.10" stroke="#000" stroke-width="1.15" />
<line x1="293.95" y1="365.80" x2="293.95" y2="364.60" stroke="#000" stroke-width="1.15" opacity="0.4"/>
<line x1="330.40" y1="239.40" x2="330.40" y2="244.40" stroke="#000" stroke-width="1.15" />
<line x1="330.40" y1="365.80" x2="330.40" y2="364.60" stroke="#000" stroke-width="1.15" opacity="0.4"/>
<text x="29.65" y="37.30" font-size="12.35" text-anchor="end" fill="#000" >10</text>
<text x="29.35" y="30.60" font-size="7.8" text-anchor="start" fill="#000" >2</text>
<text x="29.65" y="86.95" font-size="12.35" text-anchor="end" fill="#000" >10</text>
<text x="29.35" y="80.25" font-size="7.8" text-anchor="start" fill="#000" >1</text>
<text x="29.65" y="136.60" font-size="12.35" text-anchor="end" fill="#000" >10</text>
<text x="29.35" y="129.90" font-size="7.8" text-anchor="start" fill="#000" >0</text>
<text x="26.99" y="186.25" font-size="12.35" text-anchor="end" fill="#000" >10</text>
<text x="26.69" y="179.55" font-size="7.8" text-anchor="start" fill="#000" >-1</text>
<text x="29.65" y="265.60" font-size="12.35" text-anchor="end" fill="#000" >10</text>
<text x="29.35" y="258.90" font-size="7.8" text-anchor="start" fill="#000" >1</text>
<text x="29.65" y="322.20" font-size="12.35" text-anchor="end" fill="#000" >10</text>
<text x="29.35" y="315.50" font-size="7.8" text-anchor="start" fill="#000" >0</text>
<text x="26.99" y="378.80" font-size="12.35" text-anchor="end" fill="#000" >10</text>
<text x="26.69" y="372.10" font-size="7.8" text-anchor="start" fill="#000" >-1</text>
<text x="26.99" y="435.40" font-size="12.35" text-anchor="end" fill="#000" >10</text>
<text x="26.69" y="428.70" font-size="7.8" text-anchor="start" fill="#000" >-2</text>
<text x="34.80" y="470.80" font-size="12.35" text-anchor="middle" fill="#000" >0</text>
<text x="73.70" y="470.80" font-size="12.35" text-anchor="middle" fill="#000" >1</text>
<text x="112.60" y="470.80" font-size="12.35" text-anchor="middle" fill="#000" >2</text>
<text x="151.50" y="470.80" font-size="12.35" text-anchor="middle" fill="#000" >3</text>
<text x="190.40" y="470.80" font-size="12.35" text-anchor="middle" fill="#000" >4</text>
<text x="229.30" y="470.80" font-size="12.35" text-anchor="middle" fill="#000" >5</text>
<text x="268.20" y="470.80" font-size="12.35" text-anchor="middle" fill="#000" >6</text>
<text x="307.10" y="470.80" font-size="12.35" text-anchor="middle" fill="#000" >7</text>
<text x="346.00" y="470.80" font-size="12.35" text-anchor="middle" fill="#000" >8</text>
<text x="190.80" y="480.70" font-size="12.55" text-anchor="middle" fill="#000" >Temperature (K)</text>
<text transform="translate(11.3,105.3) rotate(-90)" font-size="12.2" text-anchor="middle">Rzz (Ohms)</text>
<text transform="translate(11.3,344.3) rotate(-90)" font-size="12.3" text-anchor="middle">Ryy (Ohms)</text>
<text x="80.30" y="11.30" font-size="12.35" text-anchor="middle" fill="#000" >16</text>
<text x="80.30" y="40.30" font-size="12.35" text-anchor="middle" fill="#000" >14</text>
<text x="79.80" y="61.60" font-size="12.35" text-anchor="middle" fill="#000" >11</text>
<text x="76.50" y="78.90" font-size="12.35" text-anchor="middle" fill="#000" >9</text>
<text x="76.50" y="99.80" font-size="12.35" text-anchor="middle" fill="#000" >7</text>
<text x="76.50" y="121.20" font-size="12.35" text-anchor="middle" fill="#000" >2</text>
<text x="76.80" y="151.00" font-size="12.35" text-anchor="middle" fill="#000" >1</text>
<text x="79.50" y="249.10" font-size="12.35" text-anchor="middle" fill="#000" >16</text>
<text x="79.90" y="305.10" font-size="12.35" text-anchor="middle" fill="#000" >14</text>
<text x="79.70" y="347.30" font-size="12.35" text-anchor="middle" fill="#000" >11</text>
<text x="76.50" y="379.50" font-size="12.35" text-anchor="middle" fill="#000" >9</text>
<text x="76.50" y="405.90" font-size="12.35" text-anchor="middle" fill="#000" >7</text>
<text x="76.50" y="429.70" font-size="12.35" text-anchor="middle" fill="#000" >2</text>
<text x="76.50" y="451.90" font-size="12.35" text-anchor="middle" fill="#000" >1</text>
<text x="100.50" y="20.80" font-size="12.4" text-anchor="start" fill="#000" >Strong disorder</text>
<text x="97.00" y="155.80" font-size="12.4" text-anchor="start" fill="#000" >Weak disorder</text>
<text x="84.60" y="260.00" font-size="12.4" text-anchor="start" fill="#000" >Strong disorder</text>
<text x="94.60" y="453.80" font-size="12.4" text-anchor="start" fill="#000" >Weak disorder</text>
<text x="327.50" y="11.60" font-size="12.35" text-anchor="start" fill="#000" >(a)</text>
<text x="327.50" y="450.00" font-size="12.35" text-anchor="start" fill="#000" >(b)</text>
<text x="191.35" y="142.90" font-size="12.35" text-anchor="end" fill="#000" >10</text>
<text x="191.05" y="136.20" font-size="7.8" text-anchor="start" fill="#000" >3</text>
<text x="191.35" y="170.20" font-size="12.35" text-anchor="end" fill="#000" >10</text>
<text x="191.05" y="163.50" font-size="7.8" text-anchor="start" fill="#000" >2</text>
<text x="191.35" y="196.90" font-size="12.35" text-anchor="end" fill="#000" >10</text>
<text x="191.05" y="190.20" font-size="7.8" text-anchor="start" fill="#000" >1</text>
<text x="191.35" y="223.60" font-size="12.35" text-anchor="end" fill="#000" >10</text>
<text x="191.05" y="216.90" font-size="7.8" text-anchor="start" fill="#000" >0</text>
<text x="198.30" y="136.80" font-size="12.35" text-anchor="middle" fill="#000" >0</text>
<text x="297.20" y="137.00" font-size="12.35" text-anchor="middle" fill="#000" >1</text>
<text x="239.00" y="135.40" font-size="12.35" text-anchor="start" fill="#000" >1/T (1/K)</text>
<text x="231.30" y="152.90" font-size="12.35" text-anchor="start" fill="#000" >Rzz</text>
<text x="275.50" y="177.00" font-size="12.35" text-anchor="start" fill="#ff0000" >5xRyy</text>
<text x="273.00" y="217.20" font-size="12.35" text-anchor="start" fill="#000" >first quench</text>
<text transform="translate(172.9,187.5) rotate(-90)" font-size="12.4" text-anchor="middle">R (Ohms)</text>
<text x="194.00" y="251.40" font-size="12.35" text-anchor="end" fill="#000" >4</text>
<text x="194.00" y="292.30" font-size="12.35" text-anchor="end" fill="#000" >3</text>
<text x="194.00" y="333.20" font-size="12.35" text-anchor="end" fill="#000" >2</text>
<text x="257.50" y="237.20" font-size="12.35" text-anchor="middle" fill="#000" >1</text>
<text x="330.40" y="237.20" font-size="12.35" text-anchor="middle" fill="#000" >2</text>
<text x="270.80" y="236.20" font-size="12.35" text-anchor="start" fill="#000" >T (K)</text>
<text x="307.30" y="263.50" font-size="12.35" text-anchor="start" fill="#000" >Rzz</text>
<text x="285.50" y="320.90" font-size="12.35" text-anchor="start" fill="#ff0000" >100xRyy</text>
<text x="211.30" y="360.20" font-size="12.35" text-anchor="start" fill="#000" >disorder 7</text>
<text transform="translate(183.6,295) rotate(-90)" font-size="12.4" text-anchor="middle">R (Ohms)</text>
</g>
</svg>
</body></html>
